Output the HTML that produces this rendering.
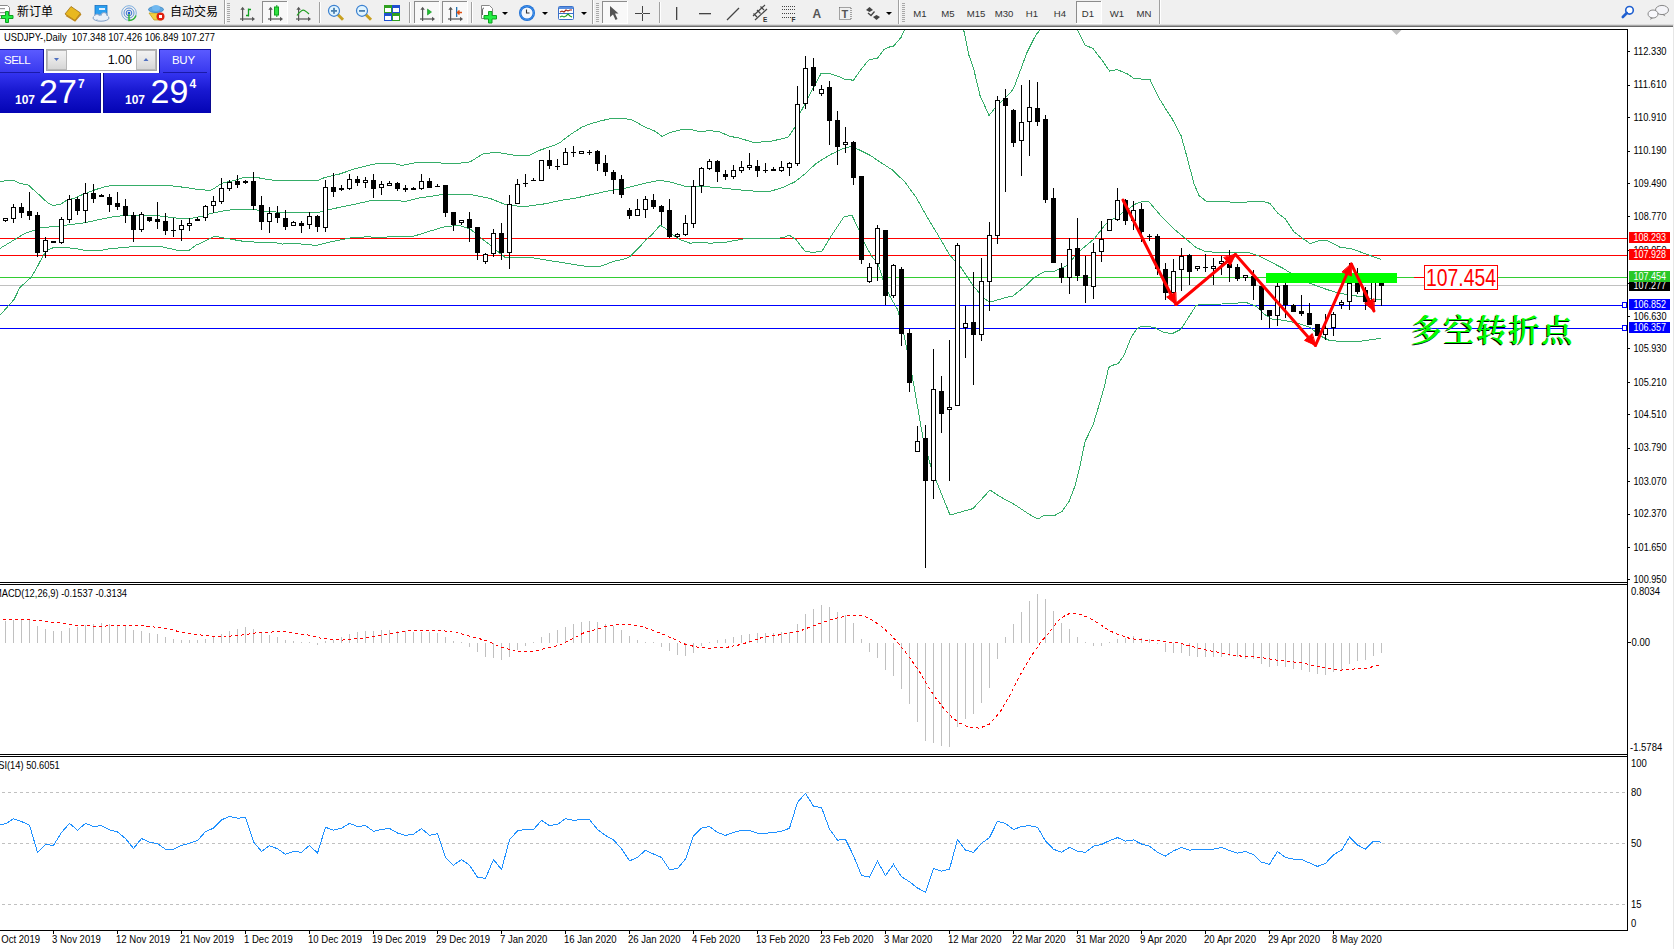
<!DOCTYPE html>
<html><head><meta charset="utf-8"><title>USDJPY Daily</title>
<style>
html,body{margin:0;padding:0;background:#fff;}
body{width:1674px;height:949px;overflow:hidden;position:relative;}
svg text{white-space:pre;}
</style></head><body>
<svg style="position:absolute;left:0;top:0" width="1674" height="949" viewBox="0 0 1674 949">
<rect x="0" y="0" width="1674" height="25" fill="#f0f0f0"/>
<rect x="0" y="24" width="1674" height="1" fill="#dcdcdc"/>
<rect x="0" y="25" width="1674" height="1" fill="#a8a8a8"/>
<rect x="0" y="26" width="1674" height="1" fill="#6c6c6c"/>
<rect x="0" y="27" width="1674" height="2" fill="#ffffff"/>
<path d="M-1,5.5 H7.5 L9.5,7.5 V18.5 H-1" fill="#fff" stroke="#8a8a8a"/>
<rect x="0" y="8" width="5" height="1.2" fill="#999"/><rect x="0" y="12" width="7" height="1.2" fill="#999"/><rect x="0" y="15" width="6" height="1.2" fill="#999"/>
<path d="M5.5,11.5 h3 v4 h4.5 v3 h-4.5 v4 h-3 v-4 h-4 v-3 h4 z" fill="#22ee44" stroke="#10a020"/>
<text x="17" y="16" font-family="'Liberation Sans', 'Noto Sans CJK SC', sans-serif" font-size="12" fill="#000">新订单</text>
<path d="M65,14 L71,6.5 L80.5,13 L75,20.5 Z" fill="#e8b820" stroke="#a07010" stroke-width="0.8"/>
<path d="M66,15.5 L75,21 L81,14" fill="none" stroke="#c08818" stroke-width="1.2"/>
<rect x="95" y="5.5" width="12" height="11" fill="#2a9ff0" stroke="#1a70c0" stroke-width="0.8"/>
<rect x="99" y="8" width="6" height="2" fill="#e0f0ff"/>
<ellipse cx="101" cy="18" rx="8" ry="3.2" fill="#eaf0f8" stroke="#7f9fc8"/>
<circle cx="97" cy="16.5" r="2.5" fill="#eaf0f8" stroke="#7f9fc8"/><circle cx="104" cy="15.5" r="3" fill="#eaf0f8" stroke="#7f9fc8"/>
<rect x="94" y="16" width="14" height="3" fill="#eaf0f8"/>
<circle cx="129" cy="13" r="7.3" fill="none" stroke="#7fb0e0" stroke-width="1"/>
<circle cx="129" cy="13" r="5" fill="none" stroke="#5a90d8" stroke-width="1"/>
<circle cx="129" cy="13" r="2.8" fill="none" stroke="#3a70d0" stroke-width="1"/>
<path d="M129,13 v7.5 a7.5,7.5 0 0 0 7-5" fill="none" stroke="#30b030" stroke-width="1.4"/>
<circle cx="129" cy="13" r="1.3" fill="#2060d0"/>
<path d="M149,13 L158,13 L162,20 L154,20 Z" fill="#f0d040" stroke="#c0a020" stroke-width="0.8"/>
<ellipse cx="156" cy="9.5" rx="7.5" ry="3" fill="#60a8e0" stroke="#3080c0" stroke-width="0.8"/>
<ellipse cx="156" cy="8" rx="4" ry="3" fill="#70b8f0"/>
<circle cx="160.5" cy="16.5" r="4" fill="#e02010"/><rect x="159" y="15" width="3" height="3" fill="#fff"/>
<text x="170" y="16" font-family="'Liberation Sans', 'Noto Sans CJK SC', sans-serif" font-size="12" fill="#000">自动交易</text>
<rect x="224" y="0" width="1" height="24" fill="#a0a0a0"/><rect x="225" y="0" width="1" height="24" fill="#ffffff"/>
<rect x="227" y="3" width="3" height="1" fill="#a8a8a8"/>
<rect x="227" y="5" width="3" height="1" fill="#a8a8a8"/>
<rect x="227" y="7" width="3" height="1" fill="#a8a8a8"/>
<rect x="227" y="9" width="3" height="1" fill="#a8a8a8"/>
<rect x="227" y="11" width="3" height="1" fill="#a8a8a8"/>
<rect x="227" y="13" width="3" height="1" fill="#a8a8a8"/>
<rect x="227" y="15" width="3" height="1" fill="#a8a8a8"/>
<rect x="227" y="17" width="3" height="1" fill="#a8a8a8"/>
<rect x="227" y="19" width="3" height="1" fill="#a8a8a8"/>
<rect x="227" y="21" width="3" height="1" fill="#a8a8a8"/>
<rect x="242" y="8" width="1.2" height="13" fill="#555"/><rect x="240" y="18.4" width="12.5" height="1.2" fill="#555"/>
<polygon points="240.4,9.8 242.6,6.8 244.8,9.8" fill="#555"/><polygon points="252,16.8 255,19 252,21.2" fill="#555"/>
<path d="M248.5,8.5 V16.5 M246,15.5 H248.5 M248.5,9.5 H251" stroke="#10a020" stroke-width="1.3" fill="none"/>
<rect x="262" y="1" width="25" height="22" fill="#f8f8f8"/>
<rect x="262" y="1" width="25" height="1" fill="#8c8c8c"/><rect x="262" y="1" width="1" height="22" fill="#8c8c8c"/>
<rect x="262" y="23" width="26" height="1" fill="#ffffff"/><rect x="287" y="1" width="1" height="23" fill="#ffffff"/>
<rect x="270" y="8" width="1.2" height="13" fill="#555"/><rect x="268" y="18.4" width="12.5" height="1.2" fill="#555"/>
<polygon points="268.4,9.8 270.6,6.8 272.8,9.8" fill="#555"/><polygon points="280,16.8 283,19 280,21.2" fill="#555"/>
<rect x="276.3" y="5" width="1" height="12" fill="#10a020"/><rect x="274.5" y="7" width="4" height="8" fill="#30e040" stroke="#10a020"/>
<rect x="298" y="8" width="1.2" height="13" fill="#555"/><rect x="296" y="18.4" width="12.5" height="1.2" fill="#555"/>
<polygon points="296.4,9.8 298.6,6.8 300.8,9.8" fill="#555"/><polygon points="308,16.8 311,19 308,21.2" fill="#555"/>
<path d="M297,15.5 Q302,9 304.5,10.5 T309,14" stroke="#20a020" stroke-width="1.2" fill="none"/>
<rect x="319" y="2" width="1" height="21" fill="#a0a0a0"/><rect x="320" y="2" width="1" height="21" fill="#ffffff"/>
<path d="M337.5,14.3 L343,19.8" stroke="#c8a020" stroke-width="3"/>
<circle cx="334" cy="10.8" r="5.5" fill="#e0f4ff" stroke="#3a80d0" stroke-width="1.2"/>
<rect x="331" y="10.0" width="6" height="1.8" fill="#4a80b0"/>
<rect x="333.1" y="7.800000000000001" width="1.8" height="6" fill="#4a80b0"/>
<path d="M365.5,14.3 L371,19.8" stroke="#c8a020" stroke-width="3"/>
<circle cx="362" cy="10.8" r="5.5" fill="#e0f4ff" stroke="#3a80d0" stroke-width="1.2"/>
<rect x="359" y="10.0" width="6" height="1.8" fill="#4a80b0"/>
<rect x="384" y="5" width="8" height="8" fill="#30a020"/><rect x="392" y="5" width="8" height="8" fill="#2050d0"/><rect x="384" y="13" width="8" height="8" fill="#2050d0"/><rect x="392" y="13" width="8" height="8" fill="#30a020"/>
<rect x="385" y="8" width="6" height="4" fill="#fff"/>
<rect x="393" y="8" width="6" height="4" fill="#fff"/>
<rect x="385" y="16" width="6" height="4" fill="#fff"/>
<rect x="393" y="16" width="6" height="4" fill="#fff"/>
<rect x="409" y="2" width="1" height="21" fill="#a0a0a0"/><rect x="410" y="2" width="1" height="21" fill="#ffffff"/>
<rect x="414" y="1" width="25" height="22" fill="#f8f8f8"/>
<rect x="414" y="1" width="25" height="1" fill="#8c8c8c"/><rect x="414" y="1" width="1" height="22" fill="#8c8c8c"/>
<rect x="414" y="23" width="26" height="1" fill="#ffffff"/><rect x="439" y="1" width="1" height="23" fill="#ffffff"/>
<rect x="422" y="8" width="1.2" height="13" fill="#555"/><rect x="420" y="18.4" width="12.5" height="1.2" fill="#555"/>
<polygon points="420.4,9.8 422.6,6.8 424.8,9.8" fill="#555"/><polygon points="432,16.8 435,19 432,21.2" fill="#555"/>
<polygon points="427.5,9 431.5,12 427.5,15" fill="#20c030" stroke="#109020" stroke-width="0.6"/>
<rect x="442" y="1" width="25" height="22" fill="#f8f8f8"/>
<rect x="442" y="1" width="25" height="1" fill="#8c8c8c"/><rect x="442" y="1" width="1" height="22" fill="#8c8c8c"/>
<rect x="442" y="23" width="26" height="1" fill="#ffffff"/><rect x="467" y="1" width="1" height="23" fill="#ffffff"/>
<rect x="450" y="8" width="1.2" height="13" fill="#555"/><rect x="448" y="18.4" width="12.5" height="1.2" fill="#555"/>
<polygon points="448.4,9.8 450.6,6.8 452.8,9.8" fill="#555"/><polygon points="460,16.8 463,19 460,21.2" fill="#555"/>
<rect x="456" y="7" width="1.3" height="10" fill="#2070b0"/><path d="M462,12.5 H458 M459.5,10.5 L457.5,12.5 L459.5,14.5" stroke="#e05010" stroke-width="1.5" fill="none"/>
<rect x="471" y="2" width="1" height="21" fill="#a0a0a0"/><rect x="472" y="2" width="1" height="21" fill="#ffffff"/>
<path d="M481.5,5.5 H489.5 L492.5,8.5 V18.5 H481.5 Z" fill="#fff" stroke="#888"/>
<path d="M484,8 q-1.5,0 -1.5,2 v5" stroke="#666" fill="none"/>
<path d="M488.5,11.5 h3.5 v4 h4.5 v3.5 h-4.5 v4 h-3.5 v-4 h-4.5 v-3.5 h4.5 z" fill="#22ee44" stroke="#10a020"/>
<polygon points="502,12 508,12 505,15" fill="#000"/>
<circle cx="527" cy="13" r="8" fill="#1a6cd4"/><circle cx="527" cy="13" r="5.6" fill="#f4f8fc"/><circle cx="527" cy="13" r="6.8" fill="none" stroke="#4a9cf0" stroke-width="0.8"/>
<path d="M526.5,9.5 V13 H529.5" stroke="#333" stroke-width="1.1" fill="none"/>
<polygon points="542,12 548,12 545,15" fill="#000"/>
<rect x="558.5" y="6.5" width="15" height="13" rx="1" fill="#fff" stroke="#3a70c8"/><rect x="559" y="7" width="14" height="2" fill="#5a90e0"/>
<rect x="559" y="13" width="14" height="1" fill="#3a70c8"/>
<path d="M560,12 l2,-1 l2,1 l2,-2 l2,1 l2,-1 l2,0" stroke="#a02010" stroke-width="1.1" fill="none"/>
<path d="M560,17 l2,-1 l2,1 l2,-1 l2,-2 l2,2 l2,1" stroke="#20a020" stroke-width="1.1" fill="none"/>
<polygon points="581,12 587,12 584,15" fill="#000"/>
<rect x="592" y="0" width="1" height="24" fill="#a0a0a0"/><rect x="593" y="0" width="1" height="24" fill="#ffffff"/>
<rect x="596" y="3" width="3" height="1" fill="#a8a8a8"/>
<rect x="596" y="5" width="3" height="1" fill="#a8a8a8"/>
<rect x="596" y="7" width="3" height="1" fill="#a8a8a8"/>
<rect x="596" y="9" width="3" height="1" fill="#a8a8a8"/>
<rect x="596" y="11" width="3" height="1" fill="#a8a8a8"/>
<rect x="596" y="13" width="3" height="1" fill="#a8a8a8"/>
<rect x="596" y="15" width="3" height="1" fill="#a8a8a8"/>
<rect x="596" y="17" width="3" height="1" fill="#a8a8a8"/>
<rect x="596" y="19" width="3" height="1" fill="#a8a8a8"/>
<rect x="596" y="21" width="3" height="1" fill="#a8a8a8"/>
<rect x="602" y="1" width="25" height="22" fill="#f8f8f8"/>
<rect x="602" y="1" width="25" height="1" fill="#8c8c8c"/><rect x="602" y="1" width="1" height="22" fill="#8c8c8c"/>
<rect x="602" y="23" width="26" height="1" fill="#ffffff"/><rect x="627" y="1" width="1" height="23" fill="#ffffff"/>
<path d="M610,6 L610,17 L613,14.5 L615.5,20 L617.5,19 L615,13.5 L618.5,13.5 Z" fill="#555"/>
<rect x="635" y="13" width="15" height="1" fill="#444"/><rect x="642" y="6" width="1" height="15" fill="#444"/><rect x="642" y="13" width="1" height="1" fill="#f0f0f0"/>
<rect x="659" y="2" width="1" height="21" fill="#a0a0a0"/><rect x="660" y="2" width="1" height="21" fill="#ffffff"/>
<rect x="676" y="7" width="1.3" height="13" fill="#444"/>
<rect x="699" y="13" width="12" height="1.3" fill="#444"/>
<path d="M727,20 L739,8" stroke="#444" stroke-width="1.2"/>
<path d="M753,16 L765,5 M755,20 L767,9 M753.5,13.5 L757,17 M757,10 L760.5,13.5 M760.5,6.5 L764,10" stroke="#444" stroke-width="1.2"/>
<text x="763" y="22" font-family="'Liberation Sans', Arial, sans-serif" font-size="6.5" font-weight="bold" fill="#333">E</text>
<path d="M782,6.5 H795" stroke="#444" stroke-width="1" stroke-dasharray="1,1"/>
<path d="M782,9.5 H795" stroke="#444" stroke-width="1" stroke-dasharray="1,1"/>
<path d="M782,13.5 H795" stroke="#444" stroke-width="1" stroke-dasharray="1,1"/>
<path d="M782,17.5 H795" stroke="#444" stroke-width="1" stroke-dasharray="1,1"/>
<text x="791.5" y="22" font-family="'Liberation Sans', Arial, sans-serif" font-size="6.5" font-weight="bold" fill="#333">F</text>
<text x="812.5" y="18" font-family="'Liberation Sans', Arial, sans-serif" font-size="12" font-weight="bold" fill="#555">A</text>
<rect x="839.5" y="7.5" width="11.5" height="12" fill="none" stroke="#555" stroke-dasharray="1,1"/>
<text x="841.5" y="17.5" font-family="'Liberation Sans', Arial, sans-serif" font-size="11" font-weight="bold" fill="#555">T</text>
<polygon points="866,10 869.5,7 873,10 869.5,12" fill="#444"/><polygon points="873,17 876.5,15 880,17 876.5,20" fill="#444"/><path d="M868,13 L871,15.5 L874.5,11.5" stroke="#444" stroke-width="1.3" fill="none"/>
<polygon points="886,12 892,12 889,15" fill="#000"/>
<rect x="898" y="0" width="1" height="24" fill="#a0a0a0"/><rect x="899" y="0" width="1" height="24" fill="#ffffff"/>
<rect x="902" y="3" width="3" height="1" fill="#a8a8a8"/>
<rect x="902" y="5" width="3" height="1" fill="#a8a8a8"/>
<rect x="902" y="7" width="3" height="1" fill="#a8a8a8"/>
<rect x="902" y="9" width="3" height="1" fill="#a8a8a8"/>
<rect x="902" y="11" width="3" height="1" fill="#a8a8a8"/>
<rect x="902" y="13" width="3" height="1" fill="#a8a8a8"/>
<rect x="902" y="15" width="3" height="1" fill="#a8a8a8"/>
<rect x="902" y="17" width="3" height="1" fill="#a8a8a8"/>
<rect x="902" y="19" width="3" height="1" fill="#a8a8a8"/>
<rect x="902" y="21" width="3" height="1" fill="#a8a8a8"/>
<rect x="1076" y="1" width="25" height="22" fill="#f8f8f8"/>
<rect x="1076" y="1" width="25" height="1" fill="#8c8c8c"/><rect x="1076" y="1" width="1" height="22" fill="#8c8c8c"/>
<rect x="1076" y="23" width="26" height="1" fill="#ffffff"/><rect x="1101" y="1" width="1" height="23" fill="#ffffff"/>
<text x="920" y="17" text-anchor="middle" font-family="'Liberation Sans', Arial, sans-serif" font-size="9.6" fill="#333">M1</text>
<text x="948" y="17" text-anchor="middle" font-family="'Liberation Sans', Arial, sans-serif" font-size="9.6" fill="#333">M5</text>
<text x="976" y="17" text-anchor="middle" font-family="'Liberation Sans', Arial, sans-serif" font-size="9.6" fill="#333">M15</text>
<text x="1004" y="17" text-anchor="middle" font-family="'Liberation Sans', Arial, sans-serif" font-size="9.6" fill="#333">M30</text>
<text x="1032" y="17" text-anchor="middle" font-family="'Liberation Sans', Arial, sans-serif" font-size="9.6" fill="#333">H1</text>
<text x="1060" y="17" text-anchor="middle" font-family="'Liberation Sans', Arial, sans-serif" font-size="9.6" fill="#333">H4</text>
<text x="1088" y="17" text-anchor="middle" font-family="'Liberation Sans', Arial, sans-serif" font-size="9.6" fill="#333">D1</text>
<text x="1117" y="17" text-anchor="middle" font-family="'Liberation Sans', Arial, sans-serif" font-size="9.6" fill="#333">W1</text>
<text x="1144" y="17" text-anchor="middle" font-family="'Liberation Sans', Arial, sans-serif" font-size="9.6" fill="#333">MN</text>
<rect x="1159" y="0" width="1" height="24" fill="#a0a0a0"/><rect x="1160" y="0" width="1" height="24" fill="#ffffff"/>
<circle cx="1629.5" cy="10.3" r="3.8" fill="#fff" stroke="#2060d0" stroke-width="1.6"/><path d="M1626.8,13 L1622.8,17" stroke="#2060d0" stroke-width="2.6" stroke-linecap="round"/>
<ellipse cx="1662" cy="10" rx="6.5" ry="4.6" fill="#f4f4f8" stroke="#888"/><path d="M1664,14 L1665.5,16.5 L1662,14.5" fill="#888"/>
<ellipse cx="1653" cy="14" rx="5" ry="4" fill="#f8f8fc" stroke="#888"/><path d="M1651,17.5 L1650,20 L1653,18" fill="#888"/>
<rect x="1673" y="24" width="1" height="925" fill="#e6e6e6"/>
<path d="M2,792.5 H1627" stroke="#c0c0c0" stroke-width="1" stroke-dasharray="3,3" shape-rendering="crispEdges"/>
<path d="M2,843.5 H1627" stroke="#c0c0c0" stroke-width="1" stroke-dasharray="3,3" shape-rendering="crispEdges"/>
<path d="M2,904.5 H1627" stroke="#c0c0c0" stroke-width="1" stroke-dasharray="3,3" shape-rendering="crispEdges"/>
<rect x="0" y="238" width="1627" height="1" fill="#ff0000"/>
<rect x="0" y="255" width="1627" height="1" fill="#ff0000"/>
<rect x="0" y="277" width="1627" height="1" fill="#32cd32"/>
<rect x="0" y="285" width="1627" height="1" fill="#c0c0c0"/>
<rect x="0" y="305" width="1627" height="1" fill="#0000ff"/>
<rect x="0" y="328" width="1627" height="1" fill="#0000ff"/>
<rect x="1622.5" y="302.5" width="4" height="5" fill="#fff" stroke="#0000ff"/>
<rect x="1622.5" y="325.5" width="4" height="5" fill="#fff" stroke="#0000ff"/>
<defs><clipPath id="mc"><rect x="0" y="30" width="1627" height="552"/></clipPath></defs>
<g clip-path="url(#mc)" fill="none" stroke="#35ad68" stroke-width="1" shape-rendering="crispEdges">
<polyline points="0.0,181.4 10.0,180.4 14.0,180.5 20.0,183.6 28.0,184.8 42.0,197.4 48.0,203.2 53.0,205.4 61.0,204.2 67.0,199.8 74.0,198.4 82.0,194.8 95.0,189.8 106.0,186.3 114.0,185.5 144.0,185.5 170.0,185.7 185.0,187.4 196.0,189.2 210.0,190.4 215.0,187.9 222.0,183.2 236.0,180.0 244.0,177.3 256.0,177.3 264.0,178.9 274.0,180.3 318.0,180.3 325.0,177.4 340.0,173.9 355.0,168.7 368.0,165.4 378.0,163.3 393.0,163.3 402.0,165.4 415.0,162.8 432.0,162.0 445.0,163.4 458.0,163.4 470.0,161.9 484.0,153.3 499.0,152.6 515.0,155.3 529.0,155.3 540.0,150.2 545.0,148.5 555.0,145.0 560.0,142.6 570.0,134.8 582.0,127.0 590.0,124.0 600.0,121.1 610.0,118.7 625.0,118.7 632.0,119.9 645.0,127.0 655.0,131.2 662.0,136.4 670.0,132.4 680.0,130.0 690.0,129.4 700.0,131.6 710.0,130.6 720.0,132.0 730.0,136.5 737.0,137.5 754.0,142.5 771.0,141.3 788.0,137.3 795.0,127.2 800.0,113.3 813.0,88.5 821.0,73.6 830.0,73.6 840.0,77.0 845.0,79.4 853.5,80.2 860.5,70.1 866.0,63.3 869.5,59.6 877.5,58.3 884.0,49.6 889.5,47.0 893.5,46.1 901.0,37.5 905.0,29.0 912.0,12.0 930.0,-10.0 950.0,-5.0 958.0,12.0 963.5,29.0 969.0,55.4 974.0,70.2 980.0,95.4 989.0,115.5 995.0,108.0 1012.3,90.4 1014.8,85.3 1027.0,52.5 1036.0,34.7 1041.0,29.0 1050.0,12.0 1065.0,5.0 1072.0,15.0 1077.0,29.3 1085.0,45.0 1093.0,48.6 1102.0,60.2 1109.5,71.0 1117.0,69.6 1127.0,73.7 1134.0,78.5 1150.0,79.6 1160.0,99.7 1166.0,109.5 1172.0,118.5 1181.0,135.5 1187.0,157.0 1194.0,183.9 1199.0,195.5 1206.0,201.1 1222.0,201.6 1240.0,202.5 1252.0,201.7 1262.0,201.3 1270.0,203.4 1278.0,213.5 1285.0,218.5 1294.0,232.0 1302.0,237.9 1310.0,243.5 1320.0,240.5 1327.0,240.5 1340.0,247.2 1352.0,248.9 1366.0,254.0 1381.0,259.4"/>
<polyline points="0.0,248.4 14.0,240.0 25.0,233.2 35.0,230.0 40.0,228.0 55.0,226.4 65.0,225.3 85.0,222.7 100.0,219.4 115.0,216.5 125.0,215.5 144.0,215.8 155.0,215.4 170.0,217.3 180.0,218.4 192.0,218.2 202.0,216.3 210.0,213.6 222.0,211.2 234.0,209.3 254.0,209.3 264.0,211.7 280.0,212.1 318.0,212.5 328.0,209.8 345.0,206.2 360.0,203.1 370.0,200.8 400.0,200.8 405.0,201.6 420.0,197.7 432.0,196.2 442.0,194.5 470.0,194.5 490.0,198.4 504.0,204.0 510.0,205.8 527.0,206.3 545.0,203.8 560.0,200.5 576.0,198.0 610.0,190.5 626.0,188.1 645.0,183.2 660.0,180.3 670.0,182.0 685.0,186.2 700.0,186.2 720.0,187.8 737.0,189.7 754.0,191.1 771.0,191.1 783.0,187.4 795.0,181.8 805.0,173.8 816.0,163.5 830.0,154.8 843.0,148.4 851.0,146.6 858.0,149.3 870.0,155.2 879.0,161.3 893.0,170.4 905.0,182.2 916.0,197.3 927.0,216.7 938.0,235.0 950.0,255.5 961.0,267.4 973.6,286.4 984.0,298.0 989.4,302.2 1008.0,297.0 1013.0,296.0 1026.0,285.4 1034.0,277.5 1045.0,271.4 1054.0,271.4 1066.0,266.0 1080.0,250.8 1094.0,239.0 1106.0,223.8 1118.0,215.8 1130.0,207.8 1136.0,203.6 1141.0,201.9 1149.0,201.9 1162.0,217.1 1174.0,228.9 1184.0,237.3 1196.0,247.5 1206.0,251.7 1222.0,252.5 1248.0,252.2 1258.0,255.6 1270.0,261.6 1283.0,268.3 1295.0,275.9 1309.0,283.0 1324.0,288.5 1338.0,293.1 1352.0,295.3 1366.0,297.5 1381.0,299.8"/>
<polyline points="0.0,315.3 14.0,299.5 20.0,287.4 31.0,277.4 37.0,267.4 43.0,255.8 48.0,250.0 54.0,247.3 65.0,247.6 75.0,248.5 85.0,250.3 98.0,251.0 110.0,248.7 125.0,247.4 137.0,246.2 160.0,246.2 168.0,248.2 178.0,250.4 189.0,250.4 196.0,245.1 203.0,242.2 210.0,238.6 215.0,236.2 222.0,237.6 229.0,238.9 242.0,241.1 257.0,242.2 273.0,242.2 282.0,244.1 289.0,243.2 297.0,243.2 303.0,244.4 317.0,245.4 330.0,241.9 345.0,239.0 352.0,237.6 368.0,236.8 380.0,237.6 393.0,236.5 414.0,236.1 432.0,230.5 446.0,226.3 460.0,225.6 470.0,228.8 482.0,238.9 490.0,244.9 500.0,253.4 505.0,257.3 530.0,257.3 545.0,259.9 560.0,262.2 570.0,263.8 578.0,265.2 587.0,266.5 600.0,266.5 605.0,264.7 613.0,261.6 625.0,258.7 630.0,256.6 640.0,246.7 646.0,239.6 652.0,234.7 660.0,225.2 665.0,227.9 672.0,234.2 680.0,239.6 690.0,243.2 700.0,242.3 710.0,243.2 725.0,242.3 735.0,240.5 745.0,238.7 760.0,238.3 775.0,238.3 783.0,237.8 789.0,235.1 796.0,239.6 805.0,251.2 813.0,252.5 822.0,251.2 830.0,237.8 844.0,216.7 852.0,215.4 858.0,227.9 866.0,246.2 872.0,256.6 878.0,263.4 883.0,279.4 890.0,296.5 897.7,309.6 903.5,332.6 912.0,374.8 923.0,438.0 931.0,467.0 936.0,480.2 950.0,515.0 973.0,508.6 990.0,490.0 999.0,495.9 1005.5,499.7 1013.0,503.7 1020.0,508.1 1028.0,513.6 1038.0,519.2 1043.0,515.8 1054.0,515.8 1062.0,511.4 1069.0,501.5 1075.0,486.0 1080.0,466.0 1085.0,441.7 1093.0,425.1 1099.0,405.2 1105.0,384.2 1108.5,367.6 1112.0,365.4 1118.0,363.8 1124.0,355.4 1131.0,337.7 1136.0,330.0 1140.0,327.0 1148.0,326.4 1155.0,327.7 1162.0,331.8 1172.0,333.8 1181.0,329.2 1189.0,316.6 1196.0,305.6 1200.0,304.5 1222.0,304.0 1240.0,302.9 1246.0,302.4 1256.0,306.2 1265.0,314.7 1273.0,319.7 1283.0,320.1 1296.0,322.8 1310.0,327.3 1320.0,335.8 1330.0,340.8 1345.0,341.3 1360.0,341.3 1372.0,339.6 1381.0,338.3"/>
</g>
<g shape-rendering="crispEdges">
<rect x="5" y="218" width="1" height="4" fill="#000"/>
<rect x="3" y="218" width="5" height="3" fill="#000"/>
<rect x="4" y="219" width="3" height="1" fill="#fff"/>
<rect x="13" y="204" width="1" height="19" fill="#000"/>
<rect x="11" y="207" width="5" height="12" fill="#000"/>
<rect x="12" y="208" width="3" height="10" fill="#fff"/>
<rect x="21" y="203" width="1" height="15" fill="#000"/>
<rect x="19" y="207" width="5" height="6" fill="#000"/>
<rect x="29" y="192" width="1" height="28" fill="#000"/>
<rect x="27" y="211" width="5" height="5" fill="#000"/>
<rect x="37" y="212" width="1" height="45" fill="#000"/>
<rect x="35" y="215" width="5" height="38" fill="#000"/>
<rect x="45" y="237" width="1" height="21" fill="#000"/>
<rect x="43" y="240" width="5" height="12" fill="#000"/>
<rect x="44" y="241" width="3" height="10" fill="#fff"/>
<rect x="53" y="241" width="1" height="2" fill="#000"/>
<rect x="51" y="241" width="5" height="2" fill="#000"/>
<rect x="61" y="217" width="1" height="27" fill="#000"/>
<rect x="59" y="219" width="5" height="24" fill="#000"/>
<rect x="60" y="220" width="3" height="22" fill="#fff"/>
<rect x="69" y="195" width="1" height="28" fill="#000"/>
<rect x="67" y="199" width="5" height="21" fill="#000"/>
<rect x="68" y="200" width="3" height="19" fill="#fff"/>
<rect x="77" y="197" width="1" height="18" fill="#000"/>
<rect x="75" y="199" width="5" height="12" fill="#000"/>
<rect x="85" y="183" width="1" height="40" fill="#000"/>
<rect x="83" y="193" width="5" height="18" fill="#000"/>
<rect x="84" y="194" width="3" height="16" fill="#fff"/>
<rect x="93" y="184" width="1" height="19" fill="#000"/>
<rect x="91" y="193" width="5" height="6" fill="#000"/>
<rect x="101" y="194" width="1" height="3" fill="#000"/>
<rect x="99" y="195" width="5" height="2" fill="#000"/>
<rect x="109" y="194" width="1" height="18" fill="#000"/>
<rect x="107" y="197" width="5" height="8" fill="#000"/>
<rect x="117" y="192" width="1" height="18" fill="#000"/>
<rect x="115" y="203" width="5" height="4" fill="#000"/>
<rect x="125" y="199" width="1" height="24" fill="#000"/>
<rect x="123" y="206" width="5" height="10" fill="#000"/>
<rect x="133" y="212" width="1" height="30" fill="#000"/>
<rect x="131" y="215" width="5" height="15" fill="#000"/>
<rect x="141" y="212" width="1" height="20" fill="#000"/>
<rect x="139" y="214" width="5" height="16" fill="#000"/>
<rect x="140" y="215" width="3" height="14" fill="#fff"/>
<rect x="149" y="217" width="1" height="5" fill="#000"/>
<rect x="147" y="217" width="5" height="4" fill="#000"/>
<rect x="157" y="202" width="1" height="27" fill="#000"/>
<rect x="155" y="219" width="5" height="3" fill="#000"/>
<rect x="165" y="213" width="1" height="22" fill="#000"/>
<rect x="163" y="221" width="5" height="10" fill="#000"/>
<rect x="173" y="218" width="1" height="19" fill="#000"/>
<rect x="171" y="230" width="5" height="1" fill="#000"/>
<rect x="181" y="220" width="1" height="21" fill="#000"/>
<rect x="179" y="225" width="5" height="5" fill="#000"/>
<rect x="180" y="226" width="3" height="3" fill="#fff"/>
<rect x="189" y="218" width="1" height="13" fill="#000"/>
<rect x="187" y="223" width="5" height="3" fill="#000"/>
<rect x="188" y="224" width="3" height="1" fill="#fff"/>
<rect x="197" y="217" width="1" height="4" fill="#000"/>
<rect x="195" y="219" width="5" height="2" fill="#000"/>
<rect x="205" y="205" width="1" height="16" fill="#000"/>
<rect x="203" y="206" width="5" height="12" fill="#000"/>
<rect x="204" y="207" width="3" height="10" fill="#fff"/>
<rect x="213" y="196" width="1" height="17" fill="#000"/>
<rect x="211" y="201" width="5" height="5" fill="#000"/>
<rect x="212" y="202" width="3" height="3" fill="#fff"/>
<rect x="221" y="178" width="1" height="26" fill="#000"/>
<rect x="219" y="188" width="5" height="14" fill="#000"/>
<rect x="220" y="189" width="3" height="12" fill="#fff"/>
<rect x="229" y="180" width="1" height="11" fill="#000"/>
<rect x="227" y="182" width="5" height="7" fill="#000"/>
<rect x="228" y="183" width="3" height="5" fill="#fff"/>
<rect x="237" y="175" width="1" height="13" fill="#000"/>
<rect x="235" y="181" width="5" height="4" fill="#000"/>
<rect x="245" y="180" width="1" height="4" fill="#000"/>
<rect x="243" y="181" width="5" height="2" fill="#000"/>
<rect x="253" y="172" width="1" height="38" fill="#000"/>
<rect x="251" y="181" width="5" height="25" fill="#000"/>
<rect x="261" y="196" width="1" height="34" fill="#000"/>
<rect x="259" y="205" width="5" height="17" fill="#000"/>
<rect x="269" y="207" width="1" height="26" fill="#000"/>
<rect x="267" y="213" width="5" height="9" fill="#000"/>
<rect x="268" y="214" width="3" height="7" fill="#fff"/>
<rect x="277" y="206" width="1" height="17" fill="#000"/>
<rect x="275" y="213" width="5" height="5" fill="#000"/>
<rect x="285" y="210" width="1" height="20" fill="#000"/>
<rect x="283" y="218" width="5" height="9" fill="#000"/>
<rect x="293" y="221" width="1" height="5" fill="#000"/>
<rect x="291" y="222" width="5" height="4" fill="#000"/>
<rect x="292" y="223" width="3" height="2" fill="#fff"/>
<rect x="301" y="221" width="1" height="12" fill="#000"/>
<rect x="299" y="223" width="5" height="3" fill="#000"/>
<rect x="309" y="212" width="1" height="17" fill="#000"/>
<rect x="307" y="216" width="5" height="9" fill="#000"/>
<rect x="308" y="217" width="3" height="7" fill="#fff"/>
<rect x="317" y="215" width="1" height="17" fill="#000"/>
<rect x="315" y="216" width="5" height="11" fill="#000"/>
<rect x="325" y="180" width="1" height="52" fill="#000"/>
<rect x="323" y="187" width="5" height="41" fill="#000"/>
<rect x="324" y="188" width="3" height="39" fill="#fff"/>
<rect x="333" y="173" width="1" height="24" fill="#000"/>
<rect x="331" y="187" width="5" height="5" fill="#000"/>
<rect x="341" y="185" width="1" height="6" fill="#000"/>
<rect x="339" y="188" width="5" height="2" fill="#000"/>
<rect x="349" y="174" width="1" height="16" fill="#000"/>
<rect x="347" y="179" width="5" height="10" fill="#000"/>
<rect x="348" y="180" width="3" height="8" fill="#fff"/>
<rect x="357" y="176" width="1" height="10" fill="#000"/>
<rect x="355" y="179" width="5" height="4" fill="#000"/>
<rect x="365" y="177" width="1" height="11" fill="#000"/>
<rect x="363" y="180" width="5" height="3" fill="#000"/>
<rect x="364" y="181" width="3" height="1" fill="#fff"/>
<rect x="373" y="174" width="1" height="24" fill="#000"/>
<rect x="371" y="180" width="5" height="9" fill="#000"/>
<rect x="381" y="181" width="1" height="14" fill="#000"/>
<rect x="379" y="184" width="5" height="4" fill="#000"/>
<rect x="380" y="185" width="3" height="2" fill="#fff"/>
<rect x="389" y="181" width="1" height="5" fill="#000"/>
<rect x="387" y="183" width="5" height="3" fill="#000"/>
<rect x="388" y="184" width="3" height="1" fill="#fff"/>
<rect x="397" y="182" width="1" height="9" fill="#000"/>
<rect x="395" y="183" width="5" height="6" fill="#000"/>
<rect x="405" y="185" width="1" height="7" fill="#000"/>
<rect x="403" y="188" width="5" height="2" fill="#000"/>
<rect x="413" y="187" width="1" height="3" fill="#000"/>
<rect x="411" y="188" width="5" height="2" fill="#000"/>
<rect x="421" y="174" width="1" height="16" fill="#000"/>
<rect x="419" y="181" width="5" height="8" fill="#000"/>
<rect x="420" y="182" width="3" height="6" fill="#fff"/>
<rect x="429" y="178" width="1" height="10" fill="#000"/>
<rect x="427" y="181" width="5" height="7" fill="#000"/>
<rect x="437" y="184" width="1" height="2" fill="#000"/>
<rect x="435" y="186" width="5" height="1" fill="#000"/>
<rect x="445" y="185" width="1" height="32" fill="#000"/>
<rect x="443" y="185" width="5" height="28" fill="#000"/>
<rect x="453" y="212" width="1" height="19" fill="#000"/>
<rect x="451" y="212" width="5" height="13" fill="#000"/>
<rect x="461" y="220" width="1" height="5" fill="#000"/>
<rect x="459" y="220" width="5" height="3" fill="#000"/>
<rect x="460" y="221" width="3" height="1" fill="#fff"/>
<rect x="469" y="212" width="1" height="30" fill="#000"/>
<rect x="467" y="219" width="5" height="9" fill="#000"/>
<rect x="477" y="227" width="1" height="33" fill="#000"/>
<rect x="475" y="227" width="5" height="26" fill="#000"/>
<rect x="485" y="253" width="1" height="11" fill="#000"/>
<rect x="483" y="254" width="5" height="8" fill="#000"/>
<rect x="484" y="255" width="3" height="6" fill="#fff"/>
<rect x="493" y="229" width="1" height="28" fill="#000"/>
<rect x="491" y="233" width="5" height="21" fill="#000"/>
<rect x="492" y="234" width="3" height="19" fill="#fff"/>
<rect x="501" y="223" width="1" height="37" fill="#000"/>
<rect x="499" y="233" width="5" height="20" fill="#000"/>
<rect x="509" y="195" width="1" height="74" fill="#000"/>
<rect x="507" y="204" width="5" height="49" fill="#000"/>
<rect x="508" y="205" width="3" height="47" fill="#fff"/>
<rect x="517" y="179" width="1" height="25" fill="#000"/>
<rect x="515" y="184" width="5" height="20" fill="#000"/>
<rect x="516" y="185" width="3" height="18" fill="#fff"/>
<rect x="525" y="174" width="1" height="13" fill="#000"/>
<rect x="523" y="183" width="5" height="1" fill="#000"/>
<rect x="533" y="178" width="1" height="3" fill="#000"/>
<rect x="531" y="180" width="5" height="1" fill="#000"/>
<rect x="541" y="160" width="1" height="21" fill="#000"/>
<rect x="539" y="160" width="5" height="21" fill="#000"/>
<rect x="540" y="161" width="3" height="19" fill="#fff"/>
<rect x="549" y="150" width="1" height="19" fill="#000"/>
<rect x="547" y="160" width="5" height="6" fill="#000"/>
<rect x="557" y="159" width="1" height="11" fill="#000"/>
<rect x="555" y="166" width="5" height="1" fill="#000"/>
<rect x="565" y="148" width="1" height="17" fill="#000"/>
<rect x="563" y="152" width="5" height="13" fill="#000"/>
<rect x="564" y="153" width="3" height="11" fill="#fff"/>
<rect x="573" y="146" width="1" height="11" fill="#000"/>
<rect x="571" y="152" width="5" height="1" fill="#000"/>
<rect x="581" y="151" width="1" height="2" fill="#000"/>
<rect x="579" y="151" width="5" height="3" fill="#000"/>
<rect x="580" y="152" width="3" height="1" fill="#fff"/>
<rect x="589" y="150" width="1" height="5" fill="#000"/>
<rect x="587" y="152" width="5" height="1" fill="#000"/>
<rect x="597" y="150" width="1" height="21" fill="#000"/>
<rect x="595" y="151" width="5" height="13" fill="#000"/>
<rect x="605" y="155" width="1" height="21" fill="#000"/>
<rect x="603" y="163" width="5" height="9" fill="#000"/>
<rect x="613" y="170" width="1" height="24" fill="#000"/>
<rect x="611" y="172" width="5" height="8" fill="#000"/>
<rect x="621" y="175" width="1" height="23" fill="#000"/>
<rect x="619" y="179" width="5" height="16" fill="#000"/>
<rect x="629" y="208" width="1" height="11" fill="#000"/>
<rect x="627" y="210" width="5" height="6" fill="#000"/>
<rect x="637" y="199" width="1" height="17" fill="#000"/>
<rect x="635" y="209" width="5" height="7" fill="#000"/>
<rect x="636" y="210" width="3" height="5" fill="#fff"/>
<rect x="645" y="196" width="1" height="22" fill="#000"/>
<rect x="643" y="199" width="5" height="11" fill="#000"/>
<rect x="644" y="200" width="3" height="9" fill="#fff"/>
<rect x="653" y="194" width="1" height="15" fill="#000"/>
<rect x="651" y="200" width="5" height="7" fill="#000"/>
<rect x="661" y="205" width="1" height="20" fill="#000"/>
<rect x="659" y="206" width="5" height="6" fill="#000"/>
<rect x="669" y="199" width="1" height="39" fill="#000"/>
<rect x="667" y="210" width="5" height="27" fill="#000"/>
<rect x="677" y="233" width="1" height="5" fill="#000"/>
<rect x="675" y="234" width="5" height="3" fill="#000"/>
<rect x="676" y="235" width="3" height="1" fill="#fff"/>
<rect x="685" y="215" width="1" height="21" fill="#000"/>
<rect x="683" y="223" width="5" height="12" fill="#000"/>
<rect x="684" y="224" width="3" height="10" fill="#fff"/>
<rect x="693" y="180" width="1" height="48" fill="#000"/>
<rect x="691" y="186" width="5" height="38" fill="#000"/>
<rect x="692" y="187" width="3" height="36" fill="#fff"/>
<rect x="701" y="167" width="1" height="26" fill="#000"/>
<rect x="699" y="168" width="5" height="18" fill="#000"/>
<rect x="700" y="169" width="3" height="16" fill="#fff"/>
<rect x="709" y="159" width="1" height="11" fill="#000"/>
<rect x="707" y="161" width="5" height="8" fill="#000"/>
<rect x="708" y="162" width="3" height="6" fill="#fff"/>
<rect x="717" y="160" width="1" height="22" fill="#000"/>
<rect x="715" y="161" width="5" height="11" fill="#000"/>
<rect x="725" y="170" width="1" height="10" fill="#000"/>
<rect x="723" y="174" width="5" height="3" fill="#000"/>
<rect x="733" y="165" width="1" height="14" fill="#000"/>
<rect x="731" y="170" width="5" height="7" fill="#000"/>
<rect x="732" y="171" width="3" height="5" fill="#fff"/>
<rect x="741" y="161" width="1" height="12" fill="#000"/>
<rect x="739" y="167" width="5" height="4" fill="#000"/>
<rect x="740" y="168" width="3" height="2" fill="#fff"/>
<rect x="749" y="153" width="1" height="17" fill="#000"/>
<rect x="747" y="165" width="5" height="3" fill="#000"/>
<rect x="748" y="166" width="3" height="1" fill="#fff"/>
<rect x="757" y="160" width="1" height="17" fill="#000"/>
<rect x="755" y="166" width="5" height="5" fill="#000"/>
<rect x="765" y="163" width="1" height="10" fill="#000"/>
<rect x="763" y="170" width="5" height="1" fill="#000"/>
<rect x="773" y="167" width="1" height="4" fill="#000"/>
<rect x="771" y="169" width="5" height="2" fill="#000"/>
<rect x="781" y="161" width="1" height="11" fill="#000"/>
<rect x="779" y="167" width="5" height="4" fill="#000"/>
<rect x="780" y="168" width="3" height="2" fill="#fff"/>
<rect x="789" y="162" width="1" height="14" fill="#000"/>
<rect x="787" y="163" width="5" height="5" fill="#000"/>
<rect x="788" y="164" width="3" height="3" fill="#fff"/>
<rect x="797" y="86" width="1" height="80" fill="#000"/>
<rect x="795" y="104" width="5" height="60" fill="#000"/>
<rect x="796" y="105" width="3" height="58" fill="#fff"/>
<rect x="805" y="56" width="1" height="53" fill="#000"/>
<rect x="803" y="68" width="5" height="36" fill="#000"/>
<rect x="804" y="69" width="3" height="34" fill="#fff"/>
<rect x="813" y="58" width="1" height="33" fill="#000"/>
<rect x="811" y="67" width="5" height="19" fill="#000"/>
<rect x="821" y="85" width="1" height="11" fill="#000"/>
<rect x="819" y="89" width="5" height="5" fill="#000"/>
<rect x="820" y="90" width="3" height="3" fill="#fff"/>
<rect x="829" y="81" width="1" height="64" fill="#000"/>
<rect x="827" y="87" width="5" height="34" fill="#000"/>
<rect x="837" y="111" width="1" height="54" fill="#000"/>
<rect x="835" y="120" width="5" height="27" fill="#000"/>
<rect x="845" y="127" width="1" height="26" fill="#000"/>
<rect x="843" y="142" width="5" height="3" fill="#000"/>
<rect x="844" y="143" width="3" height="1" fill="#fff"/>
<rect x="853" y="141" width="1" height="44" fill="#000"/>
<rect x="851" y="142" width="5" height="36" fill="#000"/>
<rect x="861" y="176" width="1" height="88" fill="#000"/>
<rect x="859" y="176" width="5" height="84" fill="#000"/>
<rect x="869" y="263" width="1" height="20" fill="#000"/>
<rect x="867" y="267" width="5" height="15" fill="#000"/>
<rect x="868" y="268" width="3" height="13" fill="#fff"/>
<rect x="877" y="225" width="1" height="56" fill="#000"/>
<rect x="875" y="228" width="5" height="36" fill="#000"/>
<rect x="876" y="229" width="3" height="34" fill="#fff"/>
<rect x="885" y="230" width="1" height="75" fill="#000"/>
<rect x="883" y="230" width="5" height="66" fill="#000"/>
<rect x="893" y="264" width="1" height="34" fill="#000"/>
<rect x="891" y="265" width="5" height="31" fill="#000"/>
<rect x="892" y="266" width="3" height="29" fill="#fff"/>
<rect x="901" y="267" width="1" height="79" fill="#000"/>
<rect x="899" y="269" width="5" height="65" fill="#000"/>
<rect x="909" y="329" width="1" height="63" fill="#000"/>
<rect x="907" y="333" width="5" height="50" fill="#000"/>
<rect x="917" y="426" width="1" height="26" fill="#000"/>
<rect x="915" y="441" width="5" height="11" fill="#000"/>
<rect x="916" y="442" width="3" height="9" fill="#fff"/>
<rect x="925" y="425" width="1" height="143" fill="#000"/>
<rect x="923" y="438" width="5" height="43" fill="#000"/>
<rect x="933" y="349" width="1" height="150" fill="#000"/>
<rect x="931" y="389" width="5" height="92" fill="#000"/>
<rect x="932" y="390" width="3" height="90" fill="#fff"/>
<rect x="941" y="376" width="1" height="57" fill="#000"/>
<rect x="939" y="391" width="5" height="23" fill="#000"/>
<rect x="949" y="340" width="1" height="141" fill="#000"/>
<rect x="947" y="407" width="5" height="3" fill="#000"/>
<rect x="948" y="408" width="3" height="1" fill="#fff"/>
<rect x="957" y="243" width="1" height="163" fill="#000"/>
<rect x="955" y="245" width="5" height="161" fill="#000"/>
<rect x="956" y="246" width="3" height="159" fill="#fff"/>
<rect x="965" y="306" width="1" height="52" fill="#000"/>
<rect x="963" y="323" width="5" height="5" fill="#000"/>
<rect x="964" y="324" width="3" height="3" fill="#fff"/>
<rect x="973" y="272" width="1" height="113" fill="#000"/>
<rect x="971" y="322" width="5" height="13" fill="#000"/>
<rect x="981" y="258" width="1" height="83" fill="#000"/>
<rect x="979" y="281" width="5" height="54" fill="#000"/>
<rect x="980" y="282" width="3" height="52" fill="#fff"/>
<rect x="989" y="222" width="1" height="89" fill="#000"/>
<rect x="987" y="235" width="5" height="47" fill="#000"/>
<rect x="988" y="236" width="3" height="45" fill="#fff"/>
<rect x="997" y="96" width="1" height="148" fill="#000"/>
<rect x="995" y="100" width="5" height="136" fill="#000"/>
<rect x="996" y="101" width="3" height="134" fill="#fff"/>
<rect x="1005" y="89" width="1" height="103" fill="#000"/>
<rect x="1003" y="98" width="5" height="8" fill="#000"/>
<rect x="1013" y="109" width="1" height="38" fill="#000"/>
<rect x="1011" y="110" width="5" height="33" fill="#000"/>
<rect x="1021" y="85" width="1" height="91" fill="#000"/>
<rect x="1019" y="122" width="5" height="19" fill="#000"/>
<rect x="1020" y="123" width="3" height="17" fill="#fff"/>
<rect x="1029" y="80" width="1" height="76" fill="#000"/>
<rect x="1027" y="107" width="5" height="15" fill="#000"/>
<rect x="1028" y="108" width="3" height="13" fill="#fff"/>
<rect x="1037" y="82" width="1" height="44" fill="#000"/>
<rect x="1035" y="108" width="5" height="14" fill="#000"/>
<rect x="1045" y="115" width="1" height="88" fill="#000"/>
<rect x="1043" y="119" width="5" height="81" fill="#000"/>
<rect x="1053" y="188" width="1" height="75" fill="#000"/>
<rect x="1051" y="198" width="5" height="65" fill="#000"/>
<rect x="1061" y="263" width="1" height="20" fill="#000"/>
<rect x="1059" y="268" width="5" height="10" fill="#000"/>
<rect x="1069" y="238" width="1" height="56" fill="#000"/>
<rect x="1067" y="249" width="5" height="29" fill="#000"/>
<rect x="1068" y="250" width="3" height="27" fill="#fff"/>
<rect x="1077" y="218" width="1" height="63" fill="#000"/>
<rect x="1075" y="248" width="5" height="28" fill="#000"/>
<rect x="1085" y="256" width="1" height="47" fill="#000"/>
<rect x="1083" y="275" width="5" height="11" fill="#000"/>
<rect x="1093" y="243" width="1" height="56" fill="#000"/>
<rect x="1091" y="252" width="5" height="35" fill="#000"/>
<rect x="1092" y="253" width="3" height="33" fill="#fff"/>
<rect x="1101" y="221" width="1" height="41" fill="#000"/>
<rect x="1099" y="239" width="5" height="13" fill="#000"/>
<rect x="1100" y="240" width="3" height="11" fill="#fff"/>
<rect x="1109" y="219" width="1" height="12" fill="#000"/>
<rect x="1107" y="219" width="5" height="12" fill="#000"/>
<rect x="1108" y="220" width="3" height="10" fill="#fff"/>
<rect x="1117" y="188" width="1" height="33" fill="#000"/>
<rect x="1115" y="200" width="5" height="20" fill="#000"/>
<rect x="1116" y="201" width="3" height="18" fill="#fff"/>
<rect x="1125" y="199" width="1" height="26" fill="#000"/>
<rect x="1123" y="200" width="5" height="21" fill="#000"/>
<rect x="1133" y="201" width="1" height="29" fill="#000"/>
<rect x="1131" y="210" width="5" height="11" fill="#000"/>
<rect x="1132" y="211" width="3" height="9" fill="#fff"/>
<rect x="1141" y="203" width="1" height="39" fill="#000"/>
<rect x="1139" y="209" width="5" height="23" fill="#000"/>
<rect x="1149" y="234" width="1" height="7" fill="#000"/>
<rect x="1147" y="236" width="5" height="1" fill="#000"/>
<rect x="1157" y="234" width="1" height="41" fill="#000"/>
<rect x="1155" y="236" width="5" height="33" fill="#000"/>
<rect x="1165" y="263" width="1" height="37" fill="#000"/>
<rect x="1163" y="269" width="5" height="24" fill="#000"/>
<rect x="1173" y="259" width="1" height="37" fill="#000"/>
<rect x="1171" y="271" width="5" height="22" fill="#000"/>
<rect x="1172" y="272" width="3" height="20" fill="#fff"/>
<rect x="1181" y="248" width="1" height="43" fill="#000"/>
<rect x="1179" y="256" width="5" height="14" fill="#000"/>
<rect x="1180" y="257" width="3" height="12" fill="#fff"/>
<rect x="1189" y="254" width="1" height="31" fill="#000"/>
<rect x="1187" y="255" width="5" height="17" fill="#000"/>
<rect x="1197" y="266" width="1" height="5" fill="#000"/>
<rect x="1195" y="266" width="5" height="3" fill="#000"/>
<rect x="1196" y="267" width="3" height="1" fill="#fff"/>
<rect x="1205" y="254" width="1" height="18" fill="#000"/>
<rect x="1203" y="267" width="5" height="1" fill="#000"/>
<rect x="1213" y="258" width="1" height="27" fill="#000"/>
<rect x="1211" y="266" width="5" height="3" fill="#000"/>
<rect x="1212" y="267" width="3" height="1" fill="#fff"/>
<rect x="1221" y="256" width="1" height="19" fill="#000"/>
<rect x="1219" y="261" width="5" height="3" fill="#000"/>
<rect x="1220" y="262" width="3" height="1" fill="#fff"/>
<rect x="1229" y="250" width="1" height="32" fill="#000"/>
<rect x="1227" y="264" width="5" height="4" fill="#000"/>
<rect x="1237" y="264" width="1" height="17" fill="#000"/>
<rect x="1235" y="267" width="5" height="12" fill="#000"/>
<rect x="1245" y="275" width="1" height="6" fill="#000"/>
<rect x="1243" y="275" width="5" height="3" fill="#000"/>
<rect x="1244" y="276" width="3" height="1" fill="#fff"/>
<rect x="1253" y="270" width="1" height="30" fill="#000"/>
<rect x="1251" y="276" width="5" height="10" fill="#000"/>
<rect x="1261" y="286" width="1" height="34" fill="#000"/>
<rect x="1259" y="286" width="5" height="24" fill="#000"/>
<rect x="1269" y="310" width="1" height="18" fill="#000"/>
<rect x="1267" y="310" width="5" height="6" fill="#000"/>
<rect x="1277" y="283" width="1" height="43" fill="#000"/>
<rect x="1275" y="286" width="5" height="30" fill="#000"/>
<rect x="1276" y="287" width="3" height="28" fill="#fff"/>
<rect x="1285" y="283" width="1" height="35" fill="#000"/>
<rect x="1283" y="285" width="5" height="20" fill="#000"/>
<rect x="1293" y="304" width="1" height="8" fill="#000"/>
<rect x="1291" y="305" width="5" height="7" fill="#000"/>
<rect x="1301" y="295" width="1" height="21" fill="#000"/>
<rect x="1299" y="311" width="5" height="3" fill="#000"/>
<rect x="1309" y="303" width="1" height="22" fill="#000"/>
<rect x="1307" y="313" width="5" height="12" fill="#000"/>
<rect x="1317" y="324" width="1" height="12" fill="#000"/>
<rect x="1315" y="324" width="5" height="12" fill="#000"/>
<rect x="1325" y="314" width="1" height="26" fill="#000"/>
<rect x="1323" y="328" width="5" height="7" fill="#000"/>
<rect x="1324" y="329" width="3" height="5" fill="#fff"/>
<rect x="1333" y="312" width="1" height="24" fill="#000"/>
<rect x="1331" y="314" width="5" height="14" fill="#000"/>
<rect x="1332" y="315" width="3" height="12" fill="#fff"/>
<rect x="1341" y="300" width="1" height="9" fill="#000"/>
<rect x="1339" y="302" width="5" height="3" fill="#000"/>
<rect x="1340" y="303" width="3" height="1" fill="#fff"/>
<rect x="1349" y="263" width="1" height="47" fill="#000"/>
<rect x="1347" y="283" width="5" height="19" fill="#000"/>
<rect x="1348" y="284" width="3" height="17" fill="#fff"/>
<rect x="1357" y="268" width="1" height="26" fill="#000"/>
<rect x="1355" y="282" width="5" height="10" fill="#000"/>
<rect x="1365" y="287" width="1" height="23" fill="#000"/>
<rect x="1363" y="290" width="5" height="12" fill="#000"/>
<rect x="1373" y="282" width="1" height="20" fill="#000"/>
<rect x="1371" y="282" width="5" height="20" fill="#000"/>
<rect x="1372" y="283" width="3" height="18" fill="#fff"/>
<rect x="1381" y="279" width="1" height="27" fill="#000"/>
<rect x="1379" y="282" width="5" height="4" fill="#000"/>
</g>
<rect x="1266" y="273" width="131" height="10" fill="#00ff00"/>
<g stroke="#ff0000" stroke-width="3" fill="#ff0000" stroke-linecap="round">
<line x1="1123" y1="200" x2="1176" y2="304.5"/>
<polygon stroke-width="1" points="1176.0,304.5 1166.6,297.0 1175.5,292.4"/>
<line x1="1176" y1="304.5" x2="1235.5" y2="254.5"/>
<polygon stroke-width="1" points="1235.5,254.5 1230.3,265.4 1223.9,257.7"/>
<line x1="1235.5" y1="254.5" x2="1315.5" y2="345.4"/>
<polygon stroke-width="1" points="1315.5,345.4 1304.5,340.4 1312.0,333.8"/>
<line x1="1315.5" y1="345.4" x2="1351.3" y2="264"/>
<polygon stroke-width="1" points="1351.3,264.0 1351.4,276.1 1342.3,272.1"/>
<line x1="1351.3" y1="264" x2="1374" y2="311"/>
<polygon stroke-width="1" points="1374.0,311.0 1364.7,303.3 1373.7,298.9"/>
</g>
<rect x="1414" y="277" width="10" height="1" fill="#ff0000"/>
<rect x="1424.5" y="265.5" width="73" height="24" fill="#fff" stroke="#ff0000"/>
<text x="1426" y="286.3" font-family="'Liberation Sans', Arial, sans-serif" font-size="23" fill="#ff0000" textLength="70" lengthAdjust="spacingAndGlyphs">107.454</text>
<text x="1410" y="342" font-family="'Liberation Serif', 'Noto Serif CJK SC', serif" font-weight="600" font-size="31" letter-spacing="1.6" fill="#000">多空转折点</text>
<text x="1411" y="341" font-family="'Liberation Serif', 'Noto Serif CJK SC', serif" font-weight="600" font-size="31" letter-spacing="1.6" fill="#00ff00">多空转折点</text>
<g shape-rendering="crispEdges">
<rect x="5" y="621" width="1" height="22" fill="#c0c0c0"/>
<rect x="13" y="620" width="1" height="23" fill="#c0c0c0"/>
<rect x="21" y="620" width="1" height="23" fill="#c0c0c0"/>
<rect x="29" y="620" width="1" height="23" fill="#c0c0c0"/>
<rect x="37" y="626" width="1" height="17" fill="#c0c0c0"/>
<rect x="45" y="629" width="1" height="14" fill="#c0c0c0"/>
<rect x="53" y="631" width="1" height="12" fill="#c0c0c0"/>
<rect x="61" y="631" width="1" height="12" fill="#c0c0c0"/>
<rect x="69" y="628" width="1" height="15" fill="#c0c0c0"/>
<rect x="77" y="627" width="1" height="16" fill="#c0c0c0"/>
<rect x="85" y="625" width="1" height="18" fill="#c0c0c0"/>
<rect x="93" y="624" width="1" height="19" fill="#c0c0c0"/>
<rect x="101" y="623" width="1" height="20" fill="#c0c0c0"/>
<rect x="109" y="624" width="1" height="19" fill="#c0c0c0"/>
<rect x="117" y="625" width="1" height="18" fill="#c0c0c0"/>
<rect x="125" y="626" width="1" height="17" fill="#c0c0c0"/>
<rect x="133" y="630" width="1" height="13" fill="#c0c0c0"/>
<rect x="141" y="631" width="1" height="12" fill="#c0c0c0"/>
<rect x="149" y="633" width="1" height="10" fill="#c0c0c0"/>
<rect x="157" y="634" width="1" height="9" fill="#c0c0c0"/>
<rect x="165" y="637" width="1" height="6" fill="#c0c0c0"/>
<rect x="173" y="639" width="1" height="4" fill="#c0c0c0"/>
<rect x="181" y="640" width="1" height="3" fill="#c0c0c0"/>
<rect x="189" y="640" width="1" height="3" fill="#c0c0c0"/>
<rect x="197" y="640" width="1" height="3" fill="#c0c0c0"/>
<rect x="205" y="639" width="1" height="4" fill="#c0c0c0"/>
<rect x="213" y="637" width="1" height="6" fill="#c0c0c0"/>
<rect x="221" y="634" width="1" height="9" fill="#c0c0c0"/>
<rect x="229" y="631" width="1" height="12" fill="#c0c0c0"/>
<rect x="237" y="629" width="1" height="14" fill="#c0c0c0"/>
<rect x="245" y="627" width="1" height="16" fill="#c0c0c0"/>
<rect x="253" y="629" width="1" height="14" fill="#c0c0c0"/>
<rect x="261" y="632" width="1" height="11" fill="#c0c0c0"/>
<rect x="269" y="635" width="1" height="8" fill="#c0c0c0"/>
<rect x="277" y="637" width="1" height="6" fill="#c0c0c0"/>
<rect x="285" y="640" width="1" height="3" fill="#c0c0c0"/>
<rect x="293" y="641" width="1" height="2" fill="#c0c0c0"/>
<rect x="301" y="642" width="1" height="1" fill="#c0c0c0"/>
<rect x="309" y="642" width="1" height="1" fill="#c0c0c0"/>
<rect x="317" y="643" width="1" height="2" fill="#c0c0c0"/>
<rect x="325" y="641" width="1" height="2" fill="#c0c0c0"/>
<rect x="333" y="640" width="1" height="3" fill="#c0c0c0"/>
<rect x="341" y="637" width="1" height="6" fill="#c0c0c0"/>
<rect x="349" y="634" width="1" height="9" fill="#c0c0c0"/>
<rect x="357" y="632" width="1" height="11" fill="#c0c0c0"/>
<rect x="365" y="631" width="1" height="12" fill="#c0c0c0"/>
<rect x="373" y="631" width="1" height="12" fill="#c0c0c0"/>
<rect x="381" y="630" width="1" height="13" fill="#c0c0c0"/>
<rect x="389" y="630" width="1" height="13" fill="#c0c0c0"/>
<rect x="397" y="631" width="1" height="12" fill="#c0c0c0"/>
<rect x="405" y="631" width="1" height="12" fill="#c0c0c0"/>
<rect x="413" y="632" width="1" height="11" fill="#c0c0c0"/>
<rect x="421" y="632" width="1" height="11" fill="#c0c0c0"/>
<rect x="429" y="632" width="1" height="11" fill="#c0c0c0"/>
<rect x="437" y="633" width="1" height="10" fill="#c0c0c0"/>
<rect x="445" y="637" width="1" height="6" fill="#c0c0c0"/>
<rect x="453" y="641" width="1" height="2" fill="#c0c0c0"/>
<rect x="461" y="642" width="1" height="1" fill="#c0c0c0"/>
<rect x="469" y="643" width="1" height="4" fill="#c0c0c0"/>
<rect x="477" y="643" width="1" height="9" fill="#c0c0c0"/>
<rect x="485" y="643" width="1" height="14" fill="#c0c0c0"/>
<rect x="493" y="643" width="1" height="15" fill="#c0c0c0"/>
<rect x="501" y="643" width="1" height="17" fill="#c0c0c0"/>
<rect x="509" y="643" width="1" height="14" fill="#c0c0c0"/>
<rect x="517" y="643" width="1" height="7" fill="#c0c0c0"/>
<rect x="525" y="643" width="1" height="3" fill="#c0c0c0"/>
<rect x="533" y="642" width="1" height="1" fill="#c0c0c0"/>
<rect x="541" y="637" width="1" height="6" fill="#c0c0c0"/>
<rect x="549" y="633" width="1" height="10" fill="#c0c0c0"/>
<rect x="557" y="630" width="1" height="13" fill="#c0c0c0"/>
<rect x="565" y="627" width="1" height="16" fill="#c0c0c0"/>
<rect x="573" y="624" width="1" height="19" fill="#c0c0c0"/>
<rect x="581" y="622" width="1" height="21" fill="#c0c0c0"/>
<rect x="589" y="621" width="1" height="22" fill="#c0c0c0"/>
<rect x="597" y="622" width="1" height="21" fill="#c0c0c0"/>
<rect x="605" y="624" width="1" height="19" fill="#c0c0c0"/>
<rect x="613" y="626" width="1" height="17" fill="#c0c0c0"/>
<rect x="621" y="630" width="1" height="13" fill="#c0c0c0"/>
<rect x="629" y="636" width="1" height="7" fill="#c0c0c0"/>
<rect x="637" y="640" width="1" height="3" fill="#c0c0c0"/>
<rect x="645" y="642" width="1" height="1" fill="#c0c0c0"/>
<rect x="653" y="642" width="1" height="1" fill="#c0c0c0"/>
<rect x="661" y="643" width="1" height="4" fill="#c0c0c0"/>
<rect x="669" y="643" width="1" height="8" fill="#c0c0c0"/>
<rect x="677" y="643" width="1" height="12" fill="#c0c0c0"/>
<rect x="685" y="643" width="1" height="13" fill="#c0c0c0"/>
<rect x="693" y="643" width="1" height="10" fill="#c0c0c0"/>
<rect x="701" y="643" width="1" height="3" fill="#c0c0c0"/>
<rect x="709" y="642" width="1" height="1" fill="#c0c0c0"/>
<rect x="717" y="640" width="1" height="3" fill="#c0c0c0"/>
<rect x="725" y="639" width="1" height="4" fill="#c0c0c0"/>
<rect x="733" y="637" width="1" height="6" fill="#c0c0c0"/>
<rect x="741" y="635" width="1" height="8" fill="#c0c0c0"/>
<rect x="749" y="634" width="1" height="9" fill="#c0c0c0"/>
<rect x="757" y="633" width="1" height="10" fill="#c0c0c0"/>
<rect x="765" y="633" width="1" height="10" fill="#c0c0c0"/>
<rect x="773" y="633" width="1" height="10" fill="#c0c0c0"/>
<rect x="781" y="632" width="1" height="11" fill="#c0c0c0"/>
<rect x="789" y="632" width="1" height="11" fill="#c0c0c0"/>
<rect x="797" y="624" width="1" height="19" fill="#c0c0c0"/>
<rect x="805" y="614" width="1" height="29" fill="#c0c0c0"/>
<rect x="813" y="609" width="1" height="34" fill="#c0c0c0"/>
<rect x="821" y="605" width="1" height="38" fill="#c0c0c0"/>
<rect x="829" y="607" width="1" height="36" fill="#c0c0c0"/>
<rect x="837" y="612" width="1" height="31" fill="#c0c0c0"/>
<rect x="845" y="615" width="1" height="28" fill="#c0c0c0"/>
<rect x="853" y="623" width="1" height="20" fill="#c0c0c0"/>
<rect x="861" y="639" width="1" height="4" fill="#c0c0c0"/>
<rect x="869" y="643" width="1" height="9" fill="#c0c0c0"/>
<rect x="877" y="643" width="1" height="15" fill="#c0c0c0"/>
<rect x="885" y="643" width="1" height="27" fill="#c0c0c0"/>
<rect x="893" y="643" width="1" height="33" fill="#c0c0c0"/>
<rect x="901" y="643" width="1" height="46" fill="#c0c0c0"/>
<rect x="909" y="643" width="1" height="61" fill="#c0c0c0"/>
<rect x="917" y="643" width="1" height="79" fill="#c0c0c0"/>
<rect x="925" y="643" width="1" height="98" fill="#c0c0c0"/>
<rect x="933" y="643" width="1" height="100" fill="#c0c0c0"/>
<rect x="941" y="643" width="1" height="103" fill="#c0c0c0"/>
<rect x="949" y="643" width="1" height="104" fill="#c0c0c0"/>
<rect x="957" y="643" width="1" height="84" fill="#c0c0c0"/>
<rect x="965" y="643" width="1" height="76" fill="#c0c0c0"/>
<rect x="973" y="643" width="1" height="71" fill="#c0c0c0"/>
<rect x="981" y="643" width="1" height="60" fill="#c0c0c0"/>
<rect x="989" y="643" width="1" height="45" fill="#c0c0c0"/>
<rect x="997" y="643" width="1" height="16" fill="#c0c0c0"/>
<rect x="1005" y="637" width="1" height="6" fill="#c0c0c0"/>
<rect x="1013" y="624" width="1" height="19" fill="#c0c0c0"/>
<rect x="1021" y="612" width="1" height="31" fill="#c0c0c0"/>
<rect x="1029" y="601" width="1" height="42" fill="#c0c0c0"/>
<rect x="1037" y="594" width="1" height="49" fill="#c0c0c0"/>
<rect x="1045" y="599" width="1" height="44" fill="#c0c0c0"/>
<rect x="1053" y="611" width="1" height="32" fill="#c0c0c0"/>
<rect x="1061" y="623" width="1" height="20" fill="#c0c0c0"/>
<rect x="1069" y="629" width="1" height="14" fill="#c0c0c0"/>
<rect x="1077" y="637" width="1" height="6" fill="#c0c0c0"/>
<rect x="1085" y="642" width="1" height="1" fill="#c0c0c0"/>
<rect x="1093" y="643" width="1" height="3" fill="#c0c0c0"/>
<rect x="1101" y="643" width="1" height="3" fill="#c0c0c0"/>
<rect x="1109" y="642" width="1" height="1" fill="#c0c0c0"/>
<rect x="1117" y="639" width="1" height="4" fill="#c0c0c0"/>
<rect x="1125" y="638" width="1" height="5" fill="#c0c0c0"/>
<rect x="1133" y="636" width="1" height="7" fill="#c0c0c0"/>
<rect x="1141" y="638" width="1" height="5" fill="#c0c0c0"/>
<rect x="1149" y="639" width="1" height="4" fill="#c0c0c0"/>
<rect x="1157" y="643" width="1" height="1" fill="#c0c0c0"/>
<rect x="1165" y="643" width="1" height="9" fill="#c0c0c0"/>
<rect x="1173" y="643" width="1" height="10" fill="#c0c0c0"/>
<rect x="1181" y="643" width="1" height="10" fill="#c0c0c0"/>
<rect x="1189" y="643" width="1" height="13" fill="#c0c0c0"/>
<rect x="1197" y="643" width="1" height="14" fill="#c0c0c0"/>
<rect x="1205" y="643" width="1" height="14" fill="#c0c0c0"/>
<rect x="1213" y="643" width="1" height="14" fill="#c0c0c0"/>
<rect x="1221" y="643" width="1" height="14" fill="#c0c0c0"/>
<rect x="1229" y="643" width="1" height="13" fill="#c0c0c0"/>
<rect x="1237" y="643" width="1" height="14" fill="#c0c0c0"/>
<rect x="1245" y="643" width="1" height="16" fill="#c0c0c0"/>
<rect x="1253" y="643" width="1" height="16" fill="#c0c0c0"/>
<rect x="1261" y="643" width="1" height="21" fill="#c0c0c0"/>
<rect x="1269" y="643" width="1" height="24" fill="#c0c0c0"/>
<rect x="1277" y="643" width="1" height="23" fill="#c0c0c0"/>
<rect x="1285" y="643" width="1" height="24" fill="#c0c0c0"/>
<rect x="1293" y="643" width="1" height="26" fill="#c0c0c0"/>
<rect x="1301" y="643" width="1" height="27" fill="#c0c0c0"/>
<rect x="1309" y="643" width="1" height="29" fill="#c0c0c0"/>
<rect x="1317" y="643" width="1" height="31" fill="#c0c0c0"/>
<rect x="1325" y="643" width="1" height="32" fill="#c0c0c0"/>
<rect x="1333" y="643" width="1" height="29" fill="#c0c0c0"/>
<rect x="1341" y="643" width="1" height="27" fill="#c0c0c0"/>
<rect x="1349" y="643" width="1" height="21" fill="#c0c0c0"/>
<rect x="1357" y="643" width="1" height="18" fill="#c0c0c0"/>
<rect x="1365" y="643" width="1" height="17" fill="#c0c0c0"/>
<rect x="1373" y="643" width="1" height="13" fill="#c0c0c0"/>
<rect x="1381" y="643" width="1" height="10" fill="#c0c0c0"/>
</g>
<polyline points="-3.0,619.6 30.0,619.6 37.0,620.5 45.0,621.3 50.0,622.0 62.0,623.2 70.0,624.4 76.0,625.4 100.0,626.3 115.0,625.6 143.0,625.6 150.0,626.5 163.0,628.2 172.0,629.2 178.0,631.6 190.0,633.4 205.0,635.6 218.0,636.5 222.0,637.3 230.0,636.1 245.0,634.7 255.0,633.0 270.0,632.3 278.0,631.3 288.0,632.2 296.0,633.4 305.0,634.4 314.0,636.5 322.0,638.5 335.0,639.5 340.0,640.2 350.0,639.5 365.0,637.8 375.0,636.1 385.0,634.4 397.0,632.2 410.0,630.6 440.0,630.4 450.0,631.6 460.0,633.4 467.0,635.6 478.0,638.2 490.0,642.0 500.0,646.8 515.0,651.1 535.0,651.1 545.0,648.5 560.0,645.1 570.0,640.2 576.0,637.0 584.0,632.7 593.0,630.4 600.0,628.2 610.0,625.3 626.0,624.4 640.0,626.1 648.0,628.7 660.0,633.0 672.0,638.2 685.0,644.2 697.0,647.1 710.0,648.2 728.0,647.1 740.0,644.7 750.0,641.6 762.0,637.5 778.0,635.1 790.0,633.0 800.0,631.0 810.0,627.0 823.0,622.3 835.0,618.4 848.0,615.8 864.0,615.8 872.0,620.1 880.0,625.3 890.0,633.9 900.0,645.1 910.0,658.0 920.0,672.6 928.0,686.3 936.0,698.4 944.0,708.7 952.0,717.3 960.0,723.3 970.0,727.6 980.0,728.1 990.0,723.8 1000.0,712.2 1010.0,695.0 1020.0,675.2 1030.0,658.0 1040.0,643.3 1050.0,631.3 1060.0,618.4 1070.0,613.2 1080.0,614.1 1090.0,618.4 1100.0,624.4 1110.0,631.0 1120.0,635.1 1130.0,638.5 1140.0,639.9 1152.0,640.3 1160.0,641.0 1170.0,642.2 1180.0,643.0 1190.0,646.1 1200.0,648.5 1210.0,650.9 1220.0,652.5 1230.0,655.1 1245.0,656.4 1260.0,657.3 1275.0,659.9 1290.0,661.6 1305.0,663.3 1315.0,666.2 1330.0,668.8 1340.0,670.2 1350.0,669.2 1365.0,668.5 1375.0,666.2 1382.0,664.0" fill="none" stroke="#ff0000" stroke-width="1" stroke-dasharray="3,3" shape-rendering="crispEdges"/>
<polyline points="-3.0,824.4 5.5,823.9 13.5,818.7 21.5,821.6 29.5,825.1 37.5,852.3 45.5,844.5 53.5,845.4 61.5,832.5 69.5,823.4 77.5,830.2 85.5,823.4 93.5,826.5 101.5,825.6 109.5,829.9 117.5,832.0 125.5,838.5 133.5,848.5 141.5,838.5 149.5,842.3 157.5,843.7 165.5,849.2 173.5,849.2 181.5,845.4 189.5,843.3 197.5,840.6 205.5,831.6 213.5,828.2 221.5,819.9 229.5,816.5 237.5,818.2 245.5,817.5 253.5,841.9 261.5,851.4 269.5,845.7 277.5,848.8 285.5,854.3 293.5,851.4 301.5,852.3 309.5,845.4 317.5,853.1 325.5,827.3 333.5,830.2 341.5,828.2 349.5,823.4 357.5,826.5 365.5,825.6 373.5,831.3 381.5,829.5 389.5,828.5 397.5,833.0 405.5,835.4 413.5,834.2 421.5,828.5 429.5,835.4 437.5,833.7 445.5,857.4 453.5,865.2 461.5,859.5 469.5,865.2 477.5,877.2 485.5,878.4 493.5,859.5 501.5,869.5 509.5,839.9 517.5,830.8 525.5,829.5 533.5,829.5 541.5,820.4 549.5,825.6 557.5,824.4 565.5,818.7 573.5,820.4 581.5,819.6 589.5,819.6 597.5,829.5 605.5,835.4 613.5,839.9 621.5,848.8 629.5,860.9 637.5,857.4 645.5,850.2 653.5,854.0 661.5,857.4 669.5,869.5 677.5,868.6 685.5,859.1 693.5,835.9 701.5,828.2 709.5,826.5 717.5,832.5 725.5,835.4 733.5,832.5 741.5,830.4 749.5,830.4 757.5,833.3 765.5,833.3 773.5,832.5 781.5,831.3 789.5,828.2 797.5,802.4 805.5,793.4 813.5,806.2 821.5,807.5 829.5,829.0 837.5,840.2 845.5,839.4 853.5,855.7 861.5,875.5 869.5,877.2 877.5,861.2 885.5,875.5 893.5,864.3 901.5,876.7 909.5,881.8 917.5,888.0 925.5,892.2 933.5,868.6 941.5,871.2 949.5,869.1 957.5,839.4 965.5,850.2 973.5,852.3 981.5,843.3 989.5,837.6 997.5,821.3 1005.5,823.4 1013.5,829.5 1021.5,826.5 1029.5,825.6 1037.5,827.3 1045.5,841.1 1053.5,849.2 1061.5,852.3 1069.5,847.4 1077.5,851.4 1085.5,852.3 1093.5,846.2 1101.5,844.5 1109.5,840.6 1117.5,837.6 1125.5,841.1 1133.5,839.9 1141.5,844.0 1149.5,846.2 1157.5,852.3 1165.5,856.0 1173.5,850.9 1181.5,847.4 1189.5,850.2 1197.5,849.2 1205.5,849.2 1213.5,849.2 1221.5,847.4 1229.5,850.5 1237.5,853.1 1245.5,851.4 1253.5,854.8 1261.5,862.2 1269.5,864.3 1277.5,851.4 1285.5,857.4 1293.5,859.1 1301.5,859.5 1309.5,862.9 1317.5,866.4 1325.5,863.4 1333.5,854.8 1341.5,850.2 1349.5,837.1 1357.5,845.0 1365.5,849.2 1373.5,841.1 1381.5,842.3" fill="none" stroke="#1e90ff" stroke-width="1" shape-rendering="crispEdges"/>
<rect x="0" y="29" width="1628" height="1" fill="#000"/>
<rect x="0" y="582" width="1628" height="1" fill="#000"/>
<rect x="0" y="584" width="1628" height="1" fill="#000"/>
<rect x="0" y="754" width="1628" height="1" fill="#000"/>
<rect x="0" y="756" width="1628" height="1" fill="#000"/>
<rect x="0" y="930" width="1628" height="1" fill="#000"/>
<rect x="1627" y="29" width="1" height="902" fill="#000"/>
<rect x="583" y="0" width="0" height="0"/>
<rect x="0" y="583" width="1627" height="1" fill="#fff"/>
<rect x="0" y="755" width="1627" height="1" fill="#fff"/>
<polygon points="1391.5,30 1401.5,30 1396.5,35" fill="#c0c0c0"/>
<rect x="1628" y="51" width="2" height="1" fill="#000"/>
<text x="1633.5" y="55.0" font-family="'Liberation Sans', Arial, sans-serif" font-size="10.6" fill="#000" textLength="33" lengthAdjust="spacingAndGlyphs">112.330</text>
<rect x="1628" y="85" width="2" height="1" fill="#000"/>
<text x="1633.5" y="88.4" font-family="'Liberation Sans', Arial, sans-serif" font-size="10.6" fill="#000" textLength="33" lengthAdjust="spacingAndGlyphs">111.610</text>
<rect x="1628" y="117" width="2" height="1" fill="#000"/>
<text x="1633.5" y="120.9" font-family="'Liberation Sans', Arial, sans-serif" font-size="10.6" fill="#000" textLength="33" lengthAdjust="spacingAndGlyphs">110.910</text>
<rect x="1628" y="151" width="2" height="1" fill="#000"/>
<text x="1633.5" y="154.3" font-family="'Liberation Sans', Arial, sans-serif" font-size="10.6" fill="#000" textLength="33" lengthAdjust="spacingAndGlyphs">110.190</text>
<rect x="1628" y="183" width="2" height="1" fill="#000"/>
<text x="1633.5" y="186.8" font-family="'Liberation Sans', Arial, sans-serif" font-size="10.6" fill="#000" textLength="33" lengthAdjust="spacingAndGlyphs">109.490</text>
<rect x="1628" y="216" width="2" height="1" fill="#000"/>
<text x="1633.5" y="220.3" font-family="'Liberation Sans', Arial, sans-serif" font-size="10.6" fill="#000" textLength="33" lengthAdjust="spacingAndGlyphs">108.770</text>
<rect x="1628" y="250" width="2" height="1" fill="#000"/>
<text x="1633.5" y="253.7" font-family="'Liberation Sans', Arial, sans-serif" font-size="10.6" fill="#000" textLength="33" lengthAdjust="spacingAndGlyphs">108.050</text>
<rect x="1628" y="283" width="2" height="1" fill="#000"/>
<text x="1633.5" y="287.1" font-family="'Liberation Sans', Arial, sans-serif" font-size="10.6" fill="#000" textLength="33" lengthAdjust="spacingAndGlyphs">107.330</text>
<rect x="1628" y="316" width="2" height="1" fill="#000"/>
<text x="1633.5" y="319.6" font-family="'Liberation Sans', Arial, sans-serif" font-size="10.6" fill="#000" textLength="33" lengthAdjust="spacingAndGlyphs">106.630</text>
<rect x="1628" y="348" width="2" height="1" fill="#000"/>
<text x="1633.5" y="352.1" font-family="'Liberation Sans', Arial, sans-serif" font-size="10.6" fill="#000" textLength="33" lengthAdjust="spacingAndGlyphs">105.930</text>
<rect x="1628" y="382" width="2" height="1" fill="#000"/>
<text x="1633.5" y="385.5" font-family="'Liberation Sans', Arial, sans-serif" font-size="10.6" fill="#000" textLength="33" lengthAdjust="spacingAndGlyphs">105.210</text>
<rect x="1628" y="414" width="2" height="1" fill="#000"/>
<text x="1633.5" y="418.0" font-family="'Liberation Sans', Arial, sans-serif" font-size="10.6" fill="#000" textLength="33" lengthAdjust="spacingAndGlyphs">104.510</text>
<rect x="1628" y="448" width="2" height="1" fill="#000"/>
<text x="1633.5" y="451.4" font-family="'Liberation Sans', Arial, sans-serif" font-size="10.6" fill="#000" textLength="33" lengthAdjust="spacingAndGlyphs">103.790</text>
<rect x="1628" y="481" width="2" height="1" fill="#000"/>
<text x="1633.5" y="484.8" font-family="'Liberation Sans', Arial, sans-serif" font-size="10.6" fill="#000" textLength="33" lengthAdjust="spacingAndGlyphs">103.070</text>
<rect x="1628" y="514" width="2" height="1" fill="#000"/>
<text x="1633.5" y="517.3" font-family="'Liberation Sans', Arial, sans-serif" font-size="10.6" fill="#000" textLength="33" lengthAdjust="spacingAndGlyphs">102.370</text>
<rect x="1628" y="547" width="2" height="1" fill="#000"/>
<text x="1633.5" y="550.8" font-family="'Liberation Sans', Arial, sans-serif" font-size="10.6" fill="#000" textLength="33" lengthAdjust="spacingAndGlyphs">101.650</text>
<rect x="1628" y="579" width="2" height="1" fill="#000"/>
<text x="1633.5" y="583.3" font-family="'Liberation Sans', Arial, sans-serif" font-size="10.6" fill="#000" textLength="33" lengthAdjust="spacingAndGlyphs">100.950</text>
<rect x="1629" y="232" width="41" height="11" fill="#ff0000"/>
<text x="1633.5" y="241.4" font-family="'Liberation Sans', Arial, sans-serif" font-size="10.6" fill="#fff" textLength="32.5" lengthAdjust="spacingAndGlyphs">108.293</text>
<rect x="1629" y="249" width="41" height="11" fill="#ff0000"/>
<text x="1633.5" y="258.4" font-family="'Liberation Sans', Arial, sans-serif" font-size="10.6" fill="#fff" textLength="32.5" lengthAdjust="spacingAndGlyphs">107.928</text>
<rect x="1629" y="280" width="41" height="11" fill="#000000"/>
<text x="1633.5" y="289.4" font-family="'Liberation Sans', Arial, sans-serif" font-size="10.6" fill="#fff" textLength="32.5" lengthAdjust="spacingAndGlyphs">107.277</text>
<rect x="1629" y="271" width="41" height="11" fill="#28c828"/>
<text x="1633.5" y="280.4" font-family="'Liberation Sans', Arial, sans-serif" font-size="10.6" fill="#fff" textLength="32.5" lengthAdjust="spacingAndGlyphs">107.454</text>
<rect x="1629" y="299" width="41" height="11" fill="#0000ff"/>
<text x="1633.5" y="308.4" font-family="'Liberation Sans', Arial, sans-serif" font-size="10.6" fill="#fff" textLength="32.5" lengthAdjust="spacingAndGlyphs">106.852</text>
<rect x="1629" y="322" width="41" height="11" fill="#0000ff"/>
<text x="1633.5" y="331.4" font-family="'Liberation Sans', Arial, sans-serif" font-size="10.6" fill="#fff" textLength="32.5" lengthAdjust="spacingAndGlyphs">106.357</text>
<text x="1631" y="595" font-family="'Liberation Sans', Arial, sans-serif" font-size="10.2" fill="#000" textLength="29.06" lengthAdjust="spacingAndGlyphs">0.8034</text>
<rect x="1628" y="642" width="3" height="1" fill="#000"/>
<text x="1631.5" y="646" font-family="'Liberation Sans', Arial, sans-serif" font-size="10.2" fill="#000" textLength="18.49" lengthAdjust="spacingAndGlyphs">0.00</text>
<text x="1630" y="751" font-family="'Liberation Sans', Arial, sans-serif" font-size="10.2" fill="#000" textLength="32.22" lengthAdjust="spacingAndGlyphs">-1.5784</text>
<text x="1631" y="767.2" font-family="'Liberation Sans', Arial, sans-serif" font-size="10.2" fill="#000" textLength="15.85" lengthAdjust="spacingAndGlyphs">100</text>
<text x="1631" y="796.2" font-family="'Liberation Sans', Arial, sans-serif" font-size="10.2" fill="#000" textLength="10.57" lengthAdjust="spacingAndGlyphs">80</text>
<text x="1631" y="846.9" font-family="'Liberation Sans', Arial, sans-serif" font-size="10.2" fill="#000" textLength="10.57" lengthAdjust="spacingAndGlyphs">50</text>
<text x="1631" y="908.1" font-family="'Liberation Sans', Arial, sans-serif" font-size="10.2" fill="#000" textLength="10.57" lengthAdjust="spacingAndGlyphs">15</text>
<text x="1631" y="927.2" font-family="'Liberation Sans', Arial, sans-serif" font-size="10.2" fill="#000" textLength="5.28" lengthAdjust="spacingAndGlyphs">0</text>
<text x="-6.1" y="597" font-family="'Liberation Sans', Arial, sans-serif" font-size="10.1" fill="#000" textLength="133.1" lengthAdjust="spacingAndGlyphs">MACD(12,26,9) -0.1537 -0.3134</text>
<text x="-8.5" y="769" font-family="'Liberation Sans', Arial, sans-serif" font-size="10.1" fill="#000" textLength="68.3" lengthAdjust="spacingAndGlyphs">RSI(14) 50.6051</text>
<text x="4" y="41" font-family="'Liberation Sans', Arial, sans-serif" font-size="10.1" fill="#000" textLength="211" lengthAdjust="spacingAndGlyphs">USDJPY-,Daily  107.348 107.426 106.849 107.277</text>
<text x="-12" y="943" font-family="'Liberation Sans', Arial, sans-serif" font-size="10.3" fill="#000" textLength="52.06" lengthAdjust="spacingAndGlyphs">25 Oct 2019</text>
<rect x="53" y="931" width="1" height="3" fill="#000"/>
<text x="52" y="943" font-family="'Liberation Sans', Arial, sans-serif" font-size="10.3" fill="#000" textLength="48.87" lengthAdjust="spacingAndGlyphs">3 Nov 2019</text>
<rect x="117" y="931" width="1" height="3" fill="#000"/>
<text x="116" y="943" font-family="'Liberation Sans', Arial, sans-serif" font-size="10.3" fill="#000" textLength="54.18" lengthAdjust="spacingAndGlyphs">12 Nov 2019</text>
<rect x="181" y="931" width="1" height="3" fill="#000"/>
<text x="180" y="943" font-family="'Liberation Sans', Arial, sans-serif" font-size="10.3" fill="#000" textLength="54.18" lengthAdjust="spacingAndGlyphs">21 Nov 2019</text>
<rect x="245" y="931" width="1" height="3" fill="#000"/>
<text x="244" y="943" font-family="'Liberation Sans', Arial, sans-serif" font-size="10.3" fill="#000" textLength="48.87" lengthAdjust="spacingAndGlyphs">1 Dec 2019</text>
<rect x="309" y="931" width="1" height="3" fill="#000"/>
<text x="308" y="943" font-family="'Liberation Sans', Arial, sans-serif" font-size="10.3" fill="#000" textLength="54.18" lengthAdjust="spacingAndGlyphs">10 Dec 2019</text>
<rect x="373" y="931" width="1" height="3" fill="#000"/>
<text x="372" y="943" font-family="'Liberation Sans', Arial, sans-serif" font-size="10.3" fill="#000" textLength="54.18" lengthAdjust="spacingAndGlyphs">19 Dec 2019</text>
<rect x="437" y="931" width="1" height="3" fill="#000"/>
<text x="436" y="943" font-family="'Liberation Sans', Arial, sans-serif" font-size="10.3" fill="#000" textLength="54.18" lengthAdjust="spacingAndGlyphs">29 Dec 2019</text>
<rect x="501" y="931" width="1" height="3" fill="#000"/>
<text x="500" y="943" font-family="'Liberation Sans', Arial, sans-serif" font-size="10.3" fill="#000" textLength="47.28" lengthAdjust="spacingAndGlyphs">7 Jan 2020</text>
<rect x="565" y="931" width="1" height="3" fill="#000"/>
<text x="564" y="943" font-family="'Liberation Sans', Arial, sans-serif" font-size="10.3" fill="#000" textLength="52.60" lengthAdjust="spacingAndGlyphs">16 Jan 2020</text>
<rect x="629" y="931" width="1" height="3" fill="#000"/>
<text x="628" y="943" font-family="'Liberation Sans', Arial, sans-serif" font-size="10.3" fill="#000" textLength="52.60" lengthAdjust="spacingAndGlyphs">26 Jan 2020</text>
<rect x="693" y="931" width="1" height="3" fill="#000"/>
<text x="692" y="943" font-family="'Liberation Sans', Arial, sans-serif" font-size="10.3" fill="#000" textLength="48.34" lengthAdjust="spacingAndGlyphs">4 Feb 2020</text>
<rect x="757" y="931" width="1" height="3" fill="#000"/>
<text x="756" y="943" font-family="'Liberation Sans', Arial, sans-serif" font-size="10.3" fill="#000" textLength="53.66" lengthAdjust="spacingAndGlyphs">13 Feb 2020</text>
<rect x="821" y="931" width="1" height="3" fill="#000"/>
<text x="820" y="943" font-family="'Liberation Sans', Arial, sans-serif" font-size="10.3" fill="#000" textLength="53.66" lengthAdjust="spacingAndGlyphs">23 Feb 2020</text>
<rect x="885" y="931" width="1" height="3" fill="#000"/>
<text x="884" y="943" font-family="'Liberation Sans', Arial, sans-serif" font-size="10.3" fill="#000" textLength="48.33" lengthAdjust="spacingAndGlyphs">3 Mar 2020</text>
<rect x="949" y="931" width="1" height="3" fill="#000"/>
<text x="948" y="943" font-family="'Liberation Sans', Arial, sans-serif" font-size="10.3" fill="#000" textLength="53.65" lengthAdjust="spacingAndGlyphs">12 Mar 2020</text>
<rect x="1013" y="931" width="1" height="3" fill="#000"/>
<text x="1012" y="943" font-family="'Liberation Sans', Arial, sans-serif" font-size="10.3" fill="#000" textLength="53.65" lengthAdjust="spacingAndGlyphs">22 Mar 2020</text>
<rect x="1077" y="931" width="1" height="3" fill="#000"/>
<text x="1076" y="943" font-family="'Liberation Sans', Arial, sans-serif" font-size="10.3" fill="#000" textLength="53.65" lengthAdjust="spacingAndGlyphs">31 Mar 2020</text>
<rect x="1141" y="931" width="1" height="3" fill="#000"/>
<text x="1140" y="943" font-family="'Liberation Sans', Arial, sans-serif" font-size="10.3" fill="#000" textLength="46.75" lengthAdjust="spacingAndGlyphs">9 Apr 2020</text>
<rect x="1205" y="931" width="1" height="3" fill="#000"/>
<text x="1204" y="943" font-family="'Liberation Sans', Arial, sans-serif" font-size="10.3" fill="#000" textLength="52.06" lengthAdjust="spacingAndGlyphs">20 Apr 2020</text>
<rect x="1269" y="931" width="1" height="3" fill="#000"/>
<text x="1268" y="943" font-family="'Liberation Sans', Arial, sans-serif" font-size="10.3" fill="#000" textLength="52.06" lengthAdjust="spacingAndGlyphs">29 Apr 2020</text>
<rect x="1333" y="931" width="1" height="3" fill="#000"/>
<text x="1332" y="943" font-family="'Liberation Sans', Arial, sans-serif" font-size="10.3" fill="#000" textLength="49.93" lengthAdjust="spacingAndGlyphs">8 May 2020</text>
</svg>

<div style="position:absolute;left:0;top:49px;width:44px;height:24px;background:linear-gradient(#5a5aff,#3838ee);border-top:1px solid #1010a0;border-right:1px solid #1010a0;box-sizing:border-box"></div>
<div style="position:absolute;left:0;top:72px;width:40px;height:1px;background:#1a1aa8"></div>
<div style="position:absolute;left:4px;top:54px;font:11.5px 'Liberation Sans', Arial, sans-serif;color:#fff;letter-spacing:-0.5px">SELL</div>
<div style="position:absolute;left:159px;top:49px;width:52px;height:24px;background:linear-gradient(#5a5aff,#3838ee);border-top:1px solid #1010a0;border-left:1px solid #1010a0;border-right:1px solid #1010a0;box-sizing:border-box"></div>
<div style="position:absolute;left:163px;top:72px;width:44px;height:1px;background:#1a1aa8"></div>
<div style="position:absolute;left:172px;top:54px;font:11.5px 'Liberation Sans', Arial, sans-serif;color:#fff;letter-spacing:-0.3px">BUY</div>
<div style="position:absolute;left:0;top:73px;width:101px;height:40px;background:linear-gradient(#3434f0,#1818d0 45%,#0404b4);border-right:1px solid #0a0a90;box-sizing:border-box"></div>
<div style="position:absolute;left:103px;top:73px;width:108px;height:40px;background:linear-gradient(#3434f0,#1818d0 45%,#0404b4);border-left:1px solid #0a0a90;border-right:1px solid #0a0a90;box-sizing:border-box"></div>
<div style="position:absolute;left:46px;top:49px;width:111px;height:22px;background:#fff;border:1px solid #a8a8a8;box-sizing:border-box"></div>
<div style="position:absolute;left:47px;top:50px;width:20px;height:20px;background:linear-gradient(#f2f2f2,#e6e6e6 50%,#d6d6d6);border:1px solid #b8b8b8;box-sizing:border-box"></div>
<div style="position:absolute;left:136px;top:50px;width:20px;height:20px;background:linear-gradient(#f2f2f2,#e6e6e6 50%,#d6d6d6);border:1px solid #b8b8b8;box-sizing:border-box"></div>
<svg style="position:absolute;left:0;top:0" width="220" height="120"><polygon points="54,58 59,58 56.5,61" fill="#5070c0"/><polygon points="143.5,61 148.5,61 146,58" fill="#5070c0"/></svg>
<div style="position:absolute;left:100px;top:53px;width:32px;text-align:right;font:12.5px 'Liberation Sans', Arial, sans-serif;color:#000">1.00</div>
<div style="position:absolute;left:15px;top:93px;font:bold 12px 'Liberation Sans', Arial, sans-serif;color:#fff">107</div>
<div style="position:absolute;left:39px;top:72px;font:34px 'Liberation Sans', Arial, sans-serif;color:#fff">27</div>
<div style="position:absolute;left:78px;top:77px;font:bold 12px 'Liberation Sans', Arial, sans-serif;color:#fff">7</div>
<div style="position:absolute;left:125px;top:93px;font:bold 12px 'Liberation Sans', Arial, sans-serif;color:#fff">107</div>
<div style="position:absolute;left:150.5px;top:72px;font:34px 'Liberation Sans', Arial, sans-serif;color:#fff">29</div>
<div style="position:absolute;left:189.5px;top:77px;font:bold 12px 'Liberation Sans', Arial, sans-serif;color:#fff">4</div>

</body></html>
